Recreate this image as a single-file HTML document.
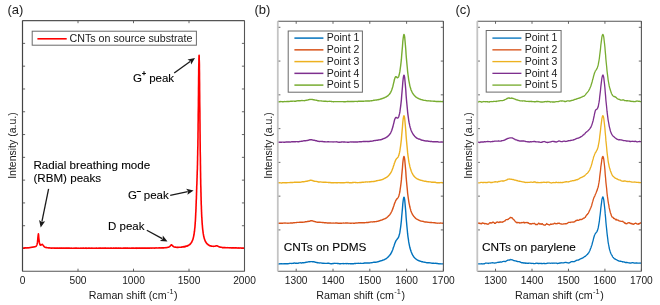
<!DOCTYPE html>
<html><head><meta charset="utf-8"><style>
html,body{margin:0;padding:0;background:#fff;}
svg{display:block;will-change:transform;}
text{font-family:"Liberation Sans", sans-serif;fill:#1a1a1a;}
.an{fill:#000;stroke:#000;stroke-width:0.1px;}
</style></head><body>
<svg width="660" height="305" viewBox="0 0 660 305">
<line x1="22.50" y1="271.3" x2="22.50" y2="268.7" stroke="#555" stroke-width="0.9"/>
<line x1="22.50" y1="20.6" x2="22.50" y2="23.200000000000003" stroke="#555" stroke-width="0.9"/>
<line x1="78.00" y1="271.3" x2="78.00" y2="268.7" stroke="#555" stroke-width="0.9"/>
<line x1="78.00" y1="20.6" x2="78.00" y2="23.200000000000003" stroke="#555" stroke-width="0.9"/>
<line x1="133.50" y1="271.3" x2="133.50" y2="268.7" stroke="#555" stroke-width="0.9"/>
<line x1="133.50" y1="20.6" x2="133.50" y2="23.200000000000003" stroke="#555" stroke-width="0.9"/>
<line x1="189.00" y1="271.3" x2="189.00" y2="268.7" stroke="#555" stroke-width="0.9"/>
<line x1="189.00" y1="20.6" x2="189.00" y2="23.200000000000003" stroke="#555" stroke-width="0.9"/>
<line x1="244.50" y1="271.3" x2="244.50" y2="268.7" stroke="#555" stroke-width="0.9"/>
<line x1="244.50" y1="20.6" x2="244.50" y2="23.200000000000003" stroke="#555" stroke-width="0.9"/>
<line x1="22.5" y1="248.51" x2="25.1" y2="248.51" stroke="#555" stroke-width="0.9"/>
<line x1="244.5" y1="248.51" x2="241.9" y2="248.51" stroke="#555" stroke-width="0.9"/>
<line x1="22.5" y1="225.72" x2="25.1" y2="225.72" stroke="#555" stroke-width="0.9"/>
<line x1="244.5" y1="225.72" x2="241.9" y2="225.72" stroke="#555" stroke-width="0.9"/>
<line x1="22.5" y1="202.93" x2="25.1" y2="202.93" stroke="#555" stroke-width="0.9"/>
<line x1="244.5" y1="202.93" x2="241.9" y2="202.93" stroke="#555" stroke-width="0.9"/>
<line x1="22.5" y1="180.14" x2="25.1" y2="180.14" stroke="#555" stroke-width="0.9"/>
<line x1="244.5" y1="180.14" x2="241.9" y2="180.14" stroke="#555" stroke-width="0.9"/>
<line x1="22.5" y1="157.35" x2="25.1" y2="157.35" stroke="#555" stroke-width="0.9"/>
<line x1="244.5" y1="157.35" x2="241.9" y2="157.35" stroke="#555" stroke-width="0.9"/>
<line x1="22.5" y1="134.55" x2="25.1" y2="134.55" stroke="#555" stroke-width="0.9"/>
<line x1="244.5" y1="134.55" x2="241.9" y2="134.55" stroke="#555" stroke-width="0.9"/>
<line x1="22.5" y1="111.76" x2="25.1" y2="111.76" stroke="#555" stroke-width="0.9"/>
<line x1="244.5" y1="111.76" x2="241.9" y2="111.76" stroke="#555" stroke-width="0.9"/>
<line x1="22.5" y1="88.97" x2="25.1" y2="88.97" stroke="#555" stroke-width="0.9"/>
<line x1="244.5" y1="88.97" x2="241.9" y2="88.97" stroke="#555" stroke-width="0.9"/>
<line x1="22.5" y1="66.18" x2="25.1" y2="66.18" stroke="#555" stroke-width="0.9"/>
<line x1="244.5" y1="66.18" x2="241.9" y2="66.18" stroke="#555" stroke-width="0.9"/>
<line x1="22.5" y1="43.39" x2="25.1" y2="43.39" stroke="#555" stroke-width="0.9"/>
<line x1="244.5" y1="43.39" x2="241.9" y2="43.39" stroke="#555" stroke-width="0.9"/>
<polyline fill="none" stroke="#FF0000" stroke-width="1.6" stroke-linejoin="round" points="22.5,248.0 22.7,248.0 23.0,248.0 23.2,248.1 23.4,248.0 23.7,248.1 23.9,248.0 24.1,247.9 24.3,248.0 24.6,248.0 24.8,247.9 25.0,247.9 25.3,247.9 25.5,248.0 25.7,247.9 26.0,247.9 26.2,248.0 26.4,247.9 26.6,248.0 26.9,247.9 27.1,247.9 27.3,247.8 27.6,247.9 27.8,247.8 28.0,247.8 28.3,247.8 28.5,247.9 28.7,247.7 28.9,247.7 29.2,247.7 29.4,247.7 29.6,247.6 29.9,247.6 30.1,247.6 30.3,247.5 30.6,247.5 30.8,247.4 31.0,247.4 31.2,247.4 31.5,247.3 31.7,247.3 31.9,247.2 32.2,247.3 32.4,247.2 32.6,247.1 32.9,247.2 33.1,247.0 33.3,247.0 33.6,247.0 33.8,246.9 34.0,246.9 34.2,246.9 34.5,246.8 34.7,246.8 34.9,246.8 35.2,246.6 35.4,246.6 35.6,246.5 35.9,246.3 36.1,246.2 36.3,245.9 36.5,245.6 36.8,245.1 37.0,244.5 37.2,243.6 37.5,242.2 37.7,240.2 37.9,237.6 38.2,235.1 38.4,233.9 38.6,235.2 38.8,238.0 39.1,240.4 39.3,242.2 39.5,243.3 39.8,244.1 40.0,244.7 40.2,245.0 40.5,245.2 40.7,245.1 40.9,245.2 41.2,245.0 41.4,244.8 41.6,244.6 41.8,244.5 42.1,244.4 42.3,244.4 42.5,244.6 42.8,244.7 43.0,245.1 43.2,245.4 43.5,245.7 43.7,246.1 43.9,246.3 44.1,246.6 44.4,246.7 44.6,247.0 44.8,247.0 45.1,247.3 45.3,247.4 45.5,247.4 45.8,247.5 46.0,247.5 46.2,247.4 46.4,247.6 46.7,247.7 46.9,247.7 47.1,247.7 47.4,247.8 47.6,247.8 47.8,247.8 48.1,247.8 48.3,247.9 48.5,247.9 48.7,247.9 49.0,248.0 49.2,247.9 49.4,248.0 49.7,247.9 49.9,247.9 50.1,248.0 50.4,248.0 50.6,248.0 50.8,248.1 51.1,248.1 51.3,248.0 51.5,248.1 51.7,248.0 52.0,248.1 52.2,248.0 52.4,248.1 52.7,248.0 52.9,248.0 53.1,248.1 53.4,248.0 53.6,248.0 53.8,248.1 54.0,248.1 54.3,248.1 54.5,248.1 54.7,248.0 55.0,248.1 55.2,248.1 55.4,248.1 55.7,248.1 55.9,248.2 56.1,248.0 56.3,248.1 56.6,248.0 56.8,248.1 57.0,248.1 57.3,248.1 57.5,248.1 57.7,248.1 58.0,248.1 58.2,248.1 58.4,248.2 58.7,248.2 58.9,248.0 59.1,248.2 59.3,248.2 59.6,248.1 59.8,248.1 60.0,248.2 60.3,248.1 60.5,248.2 60.7,248.2 61.0,248.1 61.2,248.1 61.4,248.1 61.6,248.2 61.9,248.1 62.1,248.2 62.3,248.1 62.6,248.2 62.8,248.2 63.0,248.1 63.3,248.2 63.5,248.1 63.7,248.1 63.9,248.2 64.2,248.2 64.4,248.1 64.6,248.2 64.9,248.1 65.1,248.1 65.3,248.1 65.6,248.1 65.8,248.1 66.0,248.2 66.2,248.2 66.5,248.1 66.7,248.1 66.9,248.2 67.2,248.1 67.4,248.1 67.6,248.1 67.9,248.1 68.1,248.2 68.3,248.1 68.6,248.2 68.8,248.1 69.0,248.1 69.2,248.1 69.5,248.1 69.7,248.1 69.9,248.2 70.2,248.2 70.4,248.1 70.6,248.2 70.9,248.2 71.1,248.1 71.3,248.2 71.5,248.3 71.8,248.1 72.0,248.2 72.2,248.2 72.5,248.2 72.7,248.2 72.9,248.2 73.2,248.2 73.4,248.2 73.6,248.2 73.8,248.1 74.1,248.2 74.3,248.1 74.5,248.2 74.8,248.2 75.0,248.2 75.2,248.2 75.5,248.1 75.7,248.2 75.9,248.1 76.2,248.1 76.4,248.1 76.6,248.2 76.8,248.1 77.1,248.2 77.3,248.2 77.5,248.2 77.8,248.2 78.0,248.1 78.2,248.2 78.5,248.2 78.7,248.2 78.9,248.1 79.1,248.2 79.4,248.3 79.6,248.2 79.8,248.3 80.1,248.3 80.3,248.2 80.5,248.1 80.8,248.2 81.0,248.2 81.2,248.2 81.4,248.1 81.7,248.2 81.9,248.2 82.1,248.2 82.4,248.2 82.6,248.1 82.8,248.1 83.1,248.2 83.3,248.2 83.5,248.1 83.7,248.2 84.0,248.1 84.2,248.2 84.4,248.2 84.7,248.2 84.9,248.2 85.1,248.1 85.4,248.1 85.6,248.2 85.8,248.1 86.1,248.1 86.3,248.3 86.5,248.1 86.7,248.2 87.0,248.2 87.2,248.2 87.4,248.2 87.7,248.2 87.9,248.1 88.1,248.1 88.4,248.2 88.6,248.1 88.8,248.2 89.0,248.2 89.3,248.3 89.5,248.1 89.7,248.1 90.0,248.1 90.2,248.1 90.4,248.2 90.7,248.2 90.9,248.2 91.1,248.2 91.3,248.2 91.6,248.1 91.8,248.1 92.0,248.2 92.3,248.2 92.5,248.2 92.7,248.1 93.0,248.1 93.2,248.2 93.4,248.2 93.6,248.2 93.9,248.2 94.1,248.1 94.3,248.2 94.6,248.2 94.8,248.2 95.0,248.2 95.3,248.2 95.5,248.2 95.7,248.2 96.0,248.1 96.2,248.2 96.4,248.1 96.6,248.1 96.9,248.2 97.1,248.2 97.3,248.2 97.6,248.2 97.8,248.2 98.0,248.1 98.3,248.1 98.5,248.2 98.7,248.2 98.9,248.2 99.2,248.1 99.4,248.2 99.6,248.2 99.9,248.1 100.1,248.2 100.3,248.1 100.6,248.1 100.8,248.1 101.0,248.1 101.2,248.1 101.5,248.2 101.7,248.2 101.9,248.2 102.2,248.2 102.4,248.1 102.6,248.1 102.9,248.2 103.1,248.2 103.3,248.2 103.6,248.1 103.8,248.2 104.0,248.1 104.2,248.1 104.5,248.2 104.7,248.2 104.9,248.1 105.2,248.2 105.4,248.1 105.6,248.1 105.9,248.1 106.1,248.2 106.3,248.2 106.5,248.1 106.8,248.3 107.0,248.2 107.2,248.1 107.5,248.1 107.7,248.2 107.9,248.2 108.2,248.2 108.4,248.2 108.6,248.1 108.8,248.0 109.1,248.1 109.3,248.2 109.5,248.2 109.8,248.2 110.0,248.2 110.2,248.2 110.5,248.1 110.7,248.2 110.9,248.1 111.1,248.1 111.4,248.1 111.6,248.2 111.8,248.1 112.1,248.2 112.3,248.2 112.5,248.2 112.8,248.2 113.0,248.2 113.2,248.1 113.5,248.2 113.7,248.1 113.9,248.1 114.1,248.2 114.4,248.2 114.6,248.1 114.8,248.1 115.1,248.2 115.3,248.1 115.5,248.1 115.8,248.2 116.0,248.2 116.2,248.1 116.4,248.1 116.7,248.2 116.9,248.1 117.1,248.1 117.4,248.1 117.6,248.2 117.8,248.2 118.1,248.2 118.3,248.0 118.5,248.2 118.7,248.1 119.0,248.2 119.2,248.1 119.4,248.2 119.7,248.2 119.9,248.1 120.1,248.2 120.4,248.1 120.6,248.1 120.8,248.2 121.1,248.2 121.3,248.2 121.5,248.1 121.7,248.2 122.0,248.2 122.2,248.2 122.4,248.2 122.7,248.2 122.9,248.1 123.1,248.1 123.4,248.2 123.6,248.1 123.8,248.2 124.0,248.2 124.3,248.1 124.5,248.2 124.7,248.1 125.0,248.2 125.2,248.1 125.4,248.1 125.7,248.2 125.9,248.1 126.1,248.1 126.3,248.1 126.6,248.1 126.8,248.2 127.0,248.1 127.3,248.1 127.5,248.1 127.7,248.2 128.0,248.1 128.2,248.2 128.4,248.1 128.6,248.2 128.9,248.2 129.1,248.1 129.3,248.1 129.6,248.2 129.8,248.2 130.0,248.2 130.3,248.2 130.5,248.1 130.7,248.2 131.0,248.2 131.2,248.1 131.4,248.2 131.6,248.1 131.9,248.2 132.1,248.2 132.3,248.2 132.6,248.0 132.8,248.1 133.0,248.1 133.3,248.1 133.5,248.1 133.7,248.1 133.9,248.0 134.2,248.2 134.4,248.2 134.6,248.2 134.9,248.2 135.1,248.1 135.3,248.1 135.6,248.2 135.8,248.2 136.0,248.1 136.2,248.0 136.5,248.3 136.7,248.1 136.9,248.2 137.2,248.1 137.4,248.2 137.6,248.1 137.9,248.2 138.1,248.2 138.3,248.0 138.5,248.1 138.8,248.1 139.0,248.1 139.2,248.2 139.5,248.1 139.7,248.1 139.9,248.1 140.2,248.1 140.4,248.2 140.6,248.1 140.9,248.1 141.1,248.0 141.3,248.0 141.5,248.1 141.8,248.1 142.0,248.1 142.2,248.1 142.5,248.1 142.7,248.1 142.9,248.1 143.2,248.1 143.4,248.1 143.6,248.1 143.8,248.1 144.1,248.1 144.3,248.1 144.5,248.1 144.8,248.1 145.0,248.1 145.2,248.1 145.5,248.1 145.7,248.1 145.9,248.1 146.1,248.1 146.4,248.1 146.6,248.2 146.8,248.1 147.1,248.1 147.3,248.1 147.5,248.1 147.8,248.1 148.0,248.1 148.2,248.1 148.5,248.1 148.7,248.1 148.9,248.1 149.1,248.0 149.4,248.1 149.6,248.1 149.8,248.1 150.1,248.0 150.3,248.1 150.5,248.0 150.8,248.0 151.0,248.0 151.2,248.0 151.4,248.1 151.7,248.1 151.9,248.0 152.1,248.0 152.4,248.0 152.6,248.1 152.8,248.0 153.1,248.0 153.3,248.0 153.5,248.0 153.7,248.1 154.0,248.0 154.2,248.0 154.4,248.1 154.7,248.0 154.9,248.1 155.1,248.1 155.4,248.0 155.6,247.9 155.8,248.0 156.0,248.0 156.3,247.9 156.5,247.9 156.7,248.0 157.0,248.0 157.2,248.0 157.4,248.0 157.7,248.0 157.9,248.0 158.1,248.0 158.4,247.9 158.6,248.0 158.8,248.0 159.0,247.9 159.3,247.9 159.5,247.9 159.7,247.9 160.0,248.0 160.2,247.9 160.4,248.0 160.7,248.0 160.9,247.9 161.1,247.9 161.3,247.9 161.6,248.0 161.8,247.9 162.0,247.9 162.3,247.9 162.5,248.0 162.7,247.9 163.0,247.8 163.2,247.8 163.4,247.9 163.6,247.8 163.9,247.8 164.1,247.9 164.3,247.8 164.6,247.8 164.8,247.7 165.0,247.7 165.3,247.7 165.5,247.7 165.7,247.7 166.0,247.6 166.2,247.7 166.4,247.6 166.6,247.6 166.9,247.5 167.1,247.5 167.3,247.5 167.6,247.4 167.8,247.3 168.0,247.3 168.3,247.2 168.5,247.2 168.7,247.1 168.9,247.0 169.2,246.8 169.4,246.7 169.6,246.6 169.9,246.4 170.1,246.1 170.3,245.9 170.6,245.7 170.8,245.3 171.0,245.1 171.2,244.9 171.5,244.9 171.7,244.9 171.9,245.1 172.2,245.3 172.4,245.6 172.6,245.9 172.9,246.0 173.1,246.3 173.3,246.4 173.5,246.6 173.8,246.8 174.0,246.8 174.2,247.0 174.5,247.0 174.7,247.1 174.9,247.1 175.2,247.1 175.4,247.1 175.6,247.1 175.9,247.3 176.1,247.3 176.3,247.2 176.5,247.3 176.8,247.4 177.0,247.3 177.2,247.3 177.5,247.4 177.7,247.4 177.9,247.4 178.2,247.3 178.4,247.4 178.6,247.3 178.8,247.3 179.1,247.3 179.3,247.3 179.5,247.2 179.8,247.3 180.0,247.3 180.2,247.3 180.5,247.2 180.7,247.2 180.9,247.2 181.1,247.2 181.4,247.1 181.6,247.1 181.8,247.2 182.1,247.1 182.3,247.0 182.5,246.9 182.8,246.9 183.0,246.9 183.2,246.9 183.4,246.8 183.4,246.9 183.5,246.9 183.6,246.8 183.6,246.8 183.7,246.8 183.7,246.8 183.8,246.7 183.8,246.7 183.9,246.8 184.0,246.7 184.0,246.9 184.1,246.7 184.1,246.8 184.2,246.7 184.2,246.7 184.3,246.7 184.3,246.8 184.4,246.7 184.5,246.7 184.5,246.7 184.6,246.7 184.6,246.7 184.7,246.8 184.7,246.6 184.8,246.6 184.8,246.6 184.9,246.5 185.0,246.6 185.0,246.7 185.1,246.6 185.1,246.6 185.2,246.6 185.2,246.5 185.3,246.6 185.3,246.5 185.4,246.6 185.5,246.5 185.5,246.5 185.6,246.5 185.6,246.4 185.7,246.4 185.7,246.4 185.8,246.5 185.8,246.4 185.9,246.3 186.0,246.2 186.0,246.3 186.1,246.3 186.1,246.3 186.2,246.2 186.2,246.3 186.3,246.2 186.3,246.2 186.4,246.2 186.5,246.2 186.5,246.2 186.6,246.2 186.6,246.1 186.7,246.0 186.7,246.1 186.8,246.1 186.8,246.0 186.9,246.0 187.0,246.1 187.0,246.0 187.1,245.9 187.1,245.9 187.2,245.9 187.2,245.8 187.3,245.9 187.3,245.9 187.4,245.9 187.5,245.7 187.5,245.9 187.6,245.8 187.6,245.8 187.7,245.7 187.7,245.7 187.8,245.6 187.8,245.7 187.9,245.6 188.0,245.6 188.0,245.6 188.1,245.5 188.1,245.6 188.2,245.6 188.2,245.5 188.3,245.5 188.3,245.4 188.4,245.4 188.5,245.3 188.5,245.2 188.6,245.3 188.6,245.3 188.7,245.3 188.7,245.2 188.8,245.2 188.8,245.1 188.9,245.1 189.0,245.1 189.0,245.0 189.1,245.0 189.1,244.9 189.2,244.9 189.2,244.8 189.3,244.8 189.3,244.7 189.4,244.7 189.5,244.7 189.5,244.6 189.6,244.7 189.6,244.6 189.7,244.5 189.7,244.5 189.8,244.5 189.8,244.3 189.9,244.3 190.0,244.4 190.0,244.3 190.1,244.2 190.1,244.1 190.2,244.1 190.2,244.0 190.3,244.0 190.3,243.9 190.4,243.9 190.5,243.8 190.5,243.7 190.6,243.6 190.6,243.7 190.7,243.6 190.7,243.5 190.8,243.4 190.8,243.4 190.9,243.3 191.0,243.2 191.0,243.2 191.1,243.1 191.1,243.0 191.2,243.0 191.2,242.9 191.3,242.8 191.3,242.7 191.4,242.6 191.5,242.6 191.5,242.4 191.6,242.3 191.6,242.2 191.7,242.1 191.7,242.1 191.8,241.9 191.8,241.9 191.9,241.8 192.0,241.7 192.0,241.4 192.1,241.4 192.1,241.2 192.2,241.2 192.2,241.0 192.3,241.0 192.3,240.8 192.4,240.5 192.5,240.5 192.5,240.4 192.6,240.2 192.6,240.1 192.7,239.9 192.7,239.8 192.8,239.7 192.8,239.5 192.9,239.3 193.0,239.1 193.0,238.9 193.1,238.7 193.1,238.5 193.2,238.4 193.2,238.1 193.3,237.8 193.3,237.7 193.4,237.5 193.5,237.2 193.5,236.9 193.6,236.8 193.6,236.5 193.7,236.2 193.7,235.9 193.8,235.7 193.8,235.4 193.9,235.1 194.0,234.7 194.0,234.4 194.1,234.1 194.1,233.7 194.2,233.3 194.2,233.0 194.3,232.6 194.3,232.1 194.4,231.8 194.5,231.3 194.5,230.9 194.6,230.3 194.6,229.7 194.7,229.2 194.7,228.8 194.8,228.2 194.9,227.6 194.9,227.0 195.0,226.3 195.0,225.8 195.1,224.9 195.1,224.3 195.2,223.4 195.2,222.7 195.3,221.9 195.4,221.0 195.4,220.0 195.5,219.1 195.5,218.1 195.6,217.1 195.6,216.1 195.7,214.9 195.7,213.7 195.8,212.5 195.9,211.3 195.9,209.9 196.0,208.7 196.0,207.3 196.1,205.8 196.1,204.3 196.2,202.9 196.2,201.3 196.3,199.8 196.4,198.2 196.4,196.5 196.5,195.0 196.5,193.4 196.6,191.8 196.6,190.1 196.7,188.5 196.7,186.9 196.8,185.3 196.9,183.7 196.9,182.2 197.0,180.5 197.0,179.0 197.1,177.4 197.1,175.8 197.2,174.1 197.2,172.3 197.3,170.5 197.4,168.7 197.4,166.6 197.5,164.5 197.5,162.2 197.6,159.8 197.6,157.3 197.7,154.4 197.7,151.6 197.8,148.4 197.9,145.1 197.9,141.4 198.0,137.5 198.0,133.7 198.1,129.3 198.1,124.7 198.2,120.0 198.2,115.1 198.3,110.1 198.4,104.9 198.4,99.6 198.5,94.3 198.5,88.9 198.6,83.8 198.6,78.6 198.7,73.9 198.7,69.4 198.8,65.5 198.9,62.1 198.9,59.2 199.0,57.1 199.0,55.8 199.1,55.3 199.1,55.5 199.2,56.6 199.2,58.5 199.3,61.3 199.4,64.6 199.4,68.7 199.5,73.3 199.5,78.2 199.6,83.6 199.6,89.2 199.7,95.0 199.7,100.9 199.8,106.8 199.9,112.7 199.9,118.4 200.0,124.2 200.0,129.7 200.1,135.1 200.1,140.2 200.2,145.1 200.2,149.9 200.3,154.3 200.4,158.7 200.4,162.7 200.5,166.6 200.5,170.4 200.6,173.8 200.6,177.1 200.7,180.2 200.7,183.2 200.8,186.0 200.9,188.7 200.9,191.1 201.0,193.6 201.0,195.7 201.1,197.9 201.1,199.9 201.2,201.8 201.2,203.5 201.3,205.3 201.4,207.0 201.4,208.5 201.5,210.0 201.5,211.3 201.6,212.5 201.6,213.9 201.7,215.0 201.7,216.2 201.8,217.2 201.9,218.2 201.9,219.2 202.0,220.1 202.0,220.9 202.1,221.9 202.1,222.7 202.2,223.5 202.2,224.2 202.3,224.9 202.4,225.6 202.4,226.3 202.5,226.8 202.5,227.6 202.6,228.1 202.6,228.6 202.7,229.2 202.7,229.7 202.8,230.2 202.9,230.7 202.9,231.1 203.0,231.4 203.0,231.9 203.1,232.4 203.1,232.8 203.2,233.1 203.2,233.4 203.3,233.9 203.4,234.2 203.4,234.4 203.5,234.7 203.5,235.1 203.6,235.4 203.6,235.8 203.7,236.0 203.7,236.3 203.8,236.4 203.9,236.8 203.9,236.9 204.0,237.1 204.0,237.4 204.1,237.7 204.1,237.8 204.2,238.0 204.2,238.3 204.3,238.5 204.4,238.7 204.4,238.9 204.5,238.9 204.5,239.3 204.6,239.4 204.6,239.5 204.7,239.7 204.7,239.8 204.8,240.0 204.9,240.1 204.9,240.2 205.0,240.5 205.0,240.6 205.1,240.7 205.1,240.8 205.2,240.9 205.2,241.1 205.3,241.2 205.4,241.3 205.4,241.4 205.5,241.6 205.5,241.5 205.6,241.6 205.6,241.9 205.7,241.9 205.8,241.9 205.8,242.1 205.9,242.2 205.9,242.3 206.0,242.4 206.0,242.5 206.1,242.6 206.1,242.6 206.2,242.8 206.3,242.8 206.3,242.9 206.4,243.0 206.4,243.1 206.5,243.1 206.5,243.1 206.6,243.2 206.6,243.3 206.7,243.4 206.8,243.4 206.8,243.5 206.9,243.6 206.9,243.6 207.0,243.7 207.0,243.7 207.1,243.8 207.1,243.9 207.2,243.9 207.3,244.0 207.3,244.0 207.4,244.1 207.4,244.1 207.5,244.2 207.5,244.3 207.6,244.3 207.6,244.4 207.7,244.4 207.8,244.4 207.8,244.4 207.9,244.6 207.9,244.6 208.0,244.5 208.0,244.6 208.1,244.7 208.1,244.7 208.2,244.6 208.3,244.7 208.3,244.8 208.4,244.8 208.4,244.9 208.5,245.0 208.5,245.0 208.6,245.0 208.6,245.1 208.7,245.1 208.8,245.1 208.8,245.0 208.9,245.2 208.9,245.2 209.0,245.2 209.0,245.2 209.1,245.2 209.1,245.3 209.2,245.4 209.3,245.4 209.3,245.4 209.4,245.4 209.4,245.4 209.5,245.5 209.5,245.5 209.6,245.5 209.6,245.5 209.7,245.6 209.8,245.6 209.8,245.7 209.9,245.7 209.9,245.6 210.0,245.8 210.0,245.7 210.1,245.7 210.1,245.8 210.2,245.8 210.3,245.8 210.3,245.8 210.4,245.8 210.4,245.9 210.5,245.9 210.5,245.9 210.6,245.9 210.6,245.9 210.7,245.9 210.8,245.9 210.8,246.0 210.9,245.9 210.9,245.9 211.0,245.9 211.0,245.9 211.1,246.0 211.1,246.1 211.2,246.0 211.2,246.1 211.4,246.1 211.6,246.2 211.9,246.2 212.1,246.3 212.3,246.3 212.5,246.3 212.8,246.3 213.0,246.3 213.2,246.3 213.4,246.4 213.7,246.4 213.9,246.3 214.1,246.3 214.3,246.2 214.6,246.2 214.8,246.2 215.0,246.2 215.2,246.1 215.4,246.1 215.7,246.0 215.9,245.8 216.1,245.8 216.3,245.9 216.6,245.7 216.8,245.7 217.0,245.8 217.2,245.9 217.5,246.0 217.7,246.1 217.9,246.2 218.1,246.3 218.4,246.4 218.6,246.5 218.8,246.6 219.0,246.7 219.2,246.9 219.5,246.9 219.7,247.0 219.9,247.1 220.1,247.0 220.4,247.2 220.6,247.2 220.8,247.2 221.0,247.2 221.3,247.3 221.5,247.3 221.7,247.3 221.9,247.4 222.2,247.6 222.4,247.5 222.6,247.5 222.8,247.6 223.0,247.5 223.3,247.5 223.5,247.6 223.7,247.6 223.9,247.5 224.2,247.6 224.4,247.7 224.6,247.6 224.8,247.6 225.1,247.7 225.3,247.6 225.5,247.7 225.7,247.7 226.0,247.7 226.2,247.7 226.4,247.8 226.6,247.7 226.8,247.8 227.1,247.6 227.3,247.8 227.5,247.7 227.7,247.8 228.0,247.8 228.2,247.8 228.4,247.8 228.6,247.7 228.9,247.8 229.1,247.9 229.3,247.9 229.5,247.8 229.7,247.8 230.0,247.8 230.2,247.8 230.4,247.8 230.6,247.8 230.9,247.9 231.1,248.0 231.3,247.9 231.5,248.0 231.8,247.8 232.0,247.9 232.2,247.8 232.4,247.9 232.7,247.8 232.9,247.9 233.1,247.9 233.3,247.9 233.5,247.9 233.8,247.9 234.0,248.0 234.2,247.9 234.4,247.9 234.7,248.0 234.9,247.9 235.1,248.0 235.3,247.9 235.6,247.9 235.8,248.0 236.0,247.9 236.2,248.0 236.5,247.9 236.7,248.0 236.9,247.9 237.1,248.0 237.3,248.1 237.6,248.0 237.8,248.0 238.0,247.9 238.2,248.0 238.5,248.0 238.7,248.1 238.9,247.9 239.1,247.9 239.4,248.0 239.6,248.0 239.8,248.1 240.0,248.0 240.3,247.9 240.5,248.0 240.7,248.0 240.9,248.0 241.1,248.1 241.4,248.0 241.6,248.1 241.8,248.0 242.0,248.0 242.3,248.0 242.5,248.0 242.7,248.0 242.9,248.1 243.2,248.1 243.4,248.0 243.6,248.1 243.8,248.1 244.1,248.1 244.3,248.1 244.5,248.1"/>
<line x1="22.5" y1="20.6" x2="244.5" y2="20.6" stroke="#555" stroke-width="1.1"/>
<line x1="244.5" y1="20.6" x2="244.5" y2="271.3" stroke="#555" stroke-width="1.1"/>
<line x1="22.5" y1="271.3" x2="244.5" y2="271.3" stroke="#555" stroke-width="1.1"/>
<line x1="22.5" y1="20.6" x2="22.5" y2="271.3" stroke="#444" stroke-width="1.2"/>
<text x="22.50" y="283.5" font-size="10.2" text-anchor="middle" >0</text>
<text x="78.00" y="283.5" font-size="10.2" text-anchor="middle" >500</text>
<text x="133.50" y="283.5" font-size="10.2" text-anchor="middle" >1000</text>
<text x="189.00" y="283.5" font-size="10.2" text-anchor="middle" >1500</text>
<text x="244.50" y="283.5" font-size="10.2" text-anchor="middle" >2000</text>
<text x="7.5" y="13.7" font-size="13" text-anchor="start" >(a)</text>
<rect x="32.2" y="31.2" width="164.2" height="14.0" fill="#fff" stroke="#6a6a6a" stroke-width="1"/>
<line x1="37.4" y1="38.8" x2="66.7" y2="38.8" stroke="#FF0000" stroke-width="1.6"/>
<text x="69.5" y="41.8" font-size="10.7" text-anchor="start" >CNTs on source substrate</text>
<text x="133.0" y="81.8" font-size="11.5" text-anchor="start" class="an" >G<tspan font-size="6.8" dy="-5.6" stroke-width="0.35">+</tspan><tspan dy="5.6"> peak</tspan></text>
<line x1="174.20" y1="73.00" x2="190.14" y2="61.42" stroke="#1a1a1a" stroke-width="1.3"/>
<polygon points="195.00,57.90 191.16,64.52 190.55,61.13 187.51,59.50" fill="#1a1a1a"/>
<text x="128.0" y="199.0" font-size="11.5" text-anchor="start" class="an" >G<tspan font-size="6.5" dy="-6.4" stroke-width="0.5">&#8211;</tspan><tspan dy="6.4"> peak</tspan></text>
<line x1="170.20" y1="195.30" x2="187.73" y2="191.63" stroke="#1a1a1a" stroke-width="1.3"/>
<polygon points="193.60,190.40 187.38,194.87 188.22,191.53 186.11,188.80" fill="#1a1a1a"/>
<text x="108.0" y="229.9" font-size="11.5" text-anchor="start" class="an" >D peak</text>
<line x1="146.80" y1="230.30" x2="162.22" y2="238.64" stroke="#1a1a1a" stroke-width="1.3"/>
<polygon points="167.50,241.50 159.87,240.90 162.66,238.88 162.82,235.44" fill="#1a1a1a"/>
<text x="33.5" y="169.2" font-size="11.6" text-anchor="start" class="an" >Radial breathing mode</text>
<text x="33.5" y="182.4" font-size="11.6" text-anchor="start" class="an" >(RBM) peaks</text>
<line x1="48.60" y1="188.90" x2="41.91" y2="221.52" stroke="#1a1a1a" stroke-width="1.3"/>
<polygon points="40.70,227.40 39.07,219.92 41.81,222.01 45.14,221.17" fill="#1a1a1a"/>
<text x="0" y="0" font-size="10.5" text-anchor="middle" transform="translate(16.2,145.6) rotate(-90)">Intensity (a.u.)</text>
<text x="133.2" y="298.8" font-size="10.7" text-anchor="middle" >Raman shift (cm<tspan font-size="7.4" dy="-4.6" dx="0.3">-1</tspan><tspan dy="4.6" dx="0.5">)</tspan></text>
<line x1="296.20" y1="271.3" x2="296.20" y2="268.7" stroke="#555" stroke-width="0.9"/>
<line x1="296.20" y1="21.2" x2="296.20" y2="23.8" stroke="#555" stroke-width="0.9"/>
<line x1="333.00" y1="271.3" x2="333.00" y2="268.7" stroke="#555" stroke-width="0.9"/>
<line x1="333.00" y1="21.2" x2="333.00" y2="23.8" stroke="#555" stroke-width="0.9"/>
<line x1="369.80" y1="271.3" x2="369.80" y2="268.7" stroke="#555" stroke-width="0.9"/>
<line x1="369.80" y1="21.2" x2="369.80" y2="23.8" stroke="#555" stroke-width="0.9"/>
<line x1="406.60" y1="271.3" x2="406.60" y2="268.7" stroke="#555" stroke-width="0.9"/>
<line x1="406.60" y1="21.2" x2="406.60" y2="23.8" stroke="#555" stroke-width="0.9"/>
<line x1="443.40" y1="271.3" x2="443.40" y2="268.7" stroke="#555" stroke-width="0.9"/>
<line x1="443.40" y1="21.2" x2="443.40" y2="23.8" stroke="#555" stroke-width="0.9"/>
<line x1="277.8" y1="27.30" x2="280.40000000000003" y2="27.30" stroke="#555" stroke-width="0.9"/>
<line x1="443.4" y1="27.30" x2="440.79999999999995" y2="27.30" stroke="#555" stroke-width="0.9"/>
<line x1="277.8" y1="61.07" x2="280.40000000000003" y2="61.07" stroke="#555" stroke-width="0.9"/>
<line x1="443.4" y1="61.07" x2="440.79999999999995" y2="61.07" stroke="#555" stroke-width="0.9"/>
<line x1="277.8" y1="94.84" x2="280.40000000000003" y2="94.84" stroke="#555" stroke-width="0.9"/>
<line x1="443.4" y1="94.84" x2="440.79999999999995" y2="94.84" stroke="#555" stroke-width="0.9"/>
<line x1="277.8" y1="128.61" x2="280.40000000000003" y2="128.61" stroke="#555" stroke-width="0.9"/>
<line x1="443.4" y1="128.61" x2="440.79999999999995" y2="128.61" stroke="#555" stroke-width="0.9"/>
<line x1="277.8" y1="162.38" x2="280.40000000000003" y2="162.38" stroke="#555" stroke-width="0.9"/>
<line x1="443.4" y1="162.38" x2="440.79999999999995" y2="162.38" stroke="#555" stroke-width="0.9"/>
<line x1="277.8" y1="196.15" x2="280.40000000000003" y2="196.15" stroke="#555" stroke-width="0.9"/>
<line x1="443.4" y1="196.15" x2="440.79999999999995" y2="196.15" stroke="#555" stroke-width="0.9"/>
<line x1="277.8" y1="229.92" x2="280.40000000000003" y2="229.92" stroke="#555" stroke-width="0.9"/>
<line x1="443.4" y1="229.92" x2="440.79999999999995" y2="229.92" stroke="#555" stroke-width="0.9"/>
<polyline fill="none" stroke="#0072BD" stroke-width="1.4" stroke-linejoin="round" points="277.8,264.0 278.2,263.9 278.5,264.0 278.9,264.0 279.3,263.9 279.6,263.8 280.0,263.8 280.4,263.8 280.8,263.9 281.1,263.8 281.5,263.8 281.9,263.9 282.2,263.8 282.6,263.9 283.0,263.9 283.3,263.9 283.7,263.8 284.1,263.8 284.4,263.8 284.8,263.7 285.2,263.7 285.5,263.7 285.9,263.7 286.3,263.7 286.7,263.8 287.0,263.8 287.4,263.8 287.8,263.6 288.1,263.7 288.5,263.6 288.9,263.6 289.2,263.5 289.6,263.4 290.0,263.4 290.3,263.4 290.7,263.4 291.1,263.4 291.4,263.4 291.8,263.5 292.2,263.4 292.6,263.4 292.9,263.3 293.3,263.3 293.7,263.3 294.0,263.2 294.4,263.0 294.8,263.1 295.1,263.1 295.5,263.2 295.9,263.2 296.2,263.3 296.6,263.3 297.0,263.4 297.3,263.4 297.7,263.3 298.1,263.2 298.5,263.1 298.8,263.0 299.2,262.9 299.6,262.9 299.9,262.9 300.3,262.8 300.7,262.9 301.0,262.9 301.4,263.0 301.8,263.0 302.1,262.8 302.5,262.8 302.9,262.8 303.2,262.8 303.6,262.8 304.0,262.7 304.4,262.6 304.7,262.6 305.1,262.5 305.5,262.5 305.8,262.3 306.2,262.3 306.6,262.1 306.9,262.1 307.3,262.1 307.7,262.0 308.0,261.9 308.4,261.9 308.8,261.8 309.1,261.8 309.5,261.8 309.9,261.7 310.3,261.7 310.6,261.6 311.0,261.6 311.4,261.6 311.7,261.6 312.1,261.6 312.5,261.7 312.8,261.6 313.2,261.7 313.6,261.8 313.9,261.8 314.3,261.9 314.7,262.0 315.1,262.1 315.4,262.3 315.8,262.4 316.2,262.4 316.5,262.5 316.9,262.5 317.3,262.7 317.6,262.7 318.0,262.7 318.4,262.9 318.7,262.9 319.1,262.9 319.5,262.9 319.8,263.0 320.2,262.9 320.6,262.9 321.0,262.9 321.3,263.0 321.7,263.1 322.1,263.1 322.4,263.2 322.8,263.3 323.2,263.3 323.5,263.4 323.9,263.3 324.3,263.3 324.6,263.4 325.0,263.4 325.4,263.4 325.7,263.4 326.1,263.4 326.5,263.4 326.9,263.4 327.2,263.4 327.6,263.3 328.0,263.3 328.3,263.3 328.7,263.3 329.1,263.4 329.4,263.4 329.8,263.5 330.2,263.6 330.5,263.7 330.9,263.6 331.3,263.7 331.6,263.6 332.0,263.7 332.4,263.6 332.8,263.5 333.1,263.5 333.5,263.5 333.9,263.4 334.2,263.4 334.6,263.4 335.0,263.3 335.3,263.4 335.7,263.4 336.1,263.4 336.4,263.4 336.8,263.4 337.2,263.4 337.5,263.5 337.9,263.5 338.3,263.5 338.7,263.6 339.0,263.7 339.4,263.7 339.8,263.8 340.1,263.7 340.5,263.8 340.9,263.7 341.2,263.6 341.6,263.6 342.0,263.6 342.3,263.6 342.7,263.6 343.1,263.5 343.4,263.6 343.8,263.7 344.2,263.6 344.6,263.6 344.9,263.6 345.3,263.6 345.7,263.6 346.0,263.5 346.4,263.6 346.8,263.7 347.1,263.5 347.5,263.6 347.9,263.6 348.2,263.6 348.6,263.7 349.0,263.6 349.4,263.6 349.7,263.6 350.1,263.7 350.5,263.6 350.8,263.6 351.2,263.7 351.6,263.7 351.9,263.7 352.3,263.8 352.7,263.7 353.0,263.7 353.4,263.8 353.8,263.6 354.1,263.6 354.5,263.5 354.9,263.4 355.3,263.5 355.6,263.5 356.0,263.4 356.4,263.4 356.7,263.4 357.1,263.4 357.5,263.4 357.8,263.4 358.2,263.3 358.6,263.4 358.9,263.4 359.3,263.4 359.7,263.4 360.0,263.4 360.4,263.3 360.8,263.4 361.2,263.4 361.5,263.4 361.9,263.4 362.3,263.4 362.6,263.4 363.0,263.4 363.4,263.3 363.7,263.2 364.1,263.2 364.5,263.0 364.8,263.0 365.2,263.0 365.6,262.9 365.9,262.9 366.3,263.0 366.7,262.9 367.1,263.0 367.4,263.1 367.8,263.0 368.2,263.0 368.5,263.0 368.9,263.0 369.3,263.0 369.6,263.0 370.0,262.9 370.4,262.9 370.7,262.8 371.1,262.8 371.5,262.7 371.8,262.6 372.2,262.6 372.6,262.6 373.0,262.4 373.3,262.4 373.7,262.3 374.1,262.3 374.4,262.2 374.8,262.2 375.2,262.2 375.5,262.2 375.9,262.2 376.3,262.1 376.6,262.1 377.0,262.0 377.4,261.9 377.8,261.8 378.1,261.7 378.5,261.6 378.9,261.5 379.2,261.3 379.6,261.2 380.0,261.1 380.3,261.0 380.7,260.9 381.1,260.8 381.4,260.6 381.8,260.6 382.2,260.5 382.5,260.3 382.9,260.2 383.3,260.0 383.7,259.9 384.0,259.8 384.4,259.6 384.8,259.3 385.1,259.2 385.5,259.0 385.9,258.8 386.2,258.6 386.6,258.3 387.0,258.0 387.3,257.7 387.7,257.4 388.1,257.0 388.4,256.6 388.8,256.2 389.2,255.9 389.6,255.4 389.9,255.0 390.3,254.5 390.7,254.0 391.0,253.4 391.4,252.7 391.8,251.9 392.1,251.1 392.5,250.2 392.9,249.2 393.2,248.1 393.6,247.1 394.0,246.0 394.3,244.9 394.7,243.8 395.1,242.8 395.5,241.9 395.8,241.1 396.2,240.4 396.6,239.9 396.9,239.5 397.3,239.0 397.7,238.6 398.0,238.0 398.4,237.4 398.8,236.6 399.1,235.4 399.5,234.0 399.9,232.2 400.2,230.0 400.6,227.3 401.0,224.2 401.4,220.5 401.7,216.5 402.1,212.3 402.5,207.9 402.8,203.9 403.2,200.5 403.6,198.0 403.9,197.1 404.3,197.7 404.7,199.8 405.0,203.3 405.4,207.6 405.8,212.3 406.1,217.1 406.5,221.8 406.9,226.2 407.3,230.2 407.6,233.7 408.0,236.8 408.4,239.4 408.7,241.9 409.1,243.9 409.5,245.8 409.8,247.3 410.2,248.7 410.6,250.0 410.9,251.1 411.3,252.1 411.7,253.0 412.1,253.9 412.4,254.7 412.8,255.3 413.2,255.9 413.5,256.5 413.9,257.0 414.3,257.4 414.6,257.8 415.0,258.2 415.4,258.5 415.7,258.8 416.1,259.1 416.5,259.5 416.8,259.7 417.2,259.9 417.6,260.1 418.0,260.4 418.3,260.5 418.7,260.7 419.1,260.7 419.4,260.9 419.8,261.1 420.2,261.2 420.5,261.2 420.9,261.4 421.3,261.5 421.6,261.7 422.0,261.7 422.4,261.7 422.7,261.9 423.1,262.0 423.5,262.1 423.9,262.1 424.2,262.1 424.6,262.2 425.0,262.3 425.3,262.4 425.7,262.4 426.1,262.6 426.4,262.6 426.8,262.7 427.2,262.7 427.5,262.7 427.9,262.8 428.3,262.8 428.6,262.7 429.0,262.8 429.4,262.8 429.8,262.9 430.1,262.9 430.5,262.9 430.9,263.0 431.2,263.1 431.6,263.1 432.0,263.2 432.3,263.2 432.7,263.3 433.1,263.3 433.4,263.3 433.8,263.3 434.2,263.3 434.5,263.4 434.9,263.4 435.3,263.3 435.7,263.4 436.0,263.3 436.4,263.4 436.8,263.5 437.1,263.4 437.5,263.5 437.9,263.6 438.2,263.6 438.6,263.7 439.0,263.7 439.3,263.8 439.7,263.9 440.1,263.9 440.4,263.8 440.8,263.9 441.2,263.9 441.6,263.9 441.9,263.9 442.3,263.9 442.7,263.9 443.0,263.9 443.4,263.9"/>
<polyline fill="none" stroke="#D95319" stroke-width="1.4" stroke-linejoin="round" points="277.8,223.3 278.2,223.4 278.5,223.3 278.9,223.3 279.3,223.3 279.6,223.3 280.0,223.2 280.4,223.3 280.8,223.2 281.1,223.2 281.5,223.2 281.9,223.2 282.2,223.2 282.6,223.2 283.0,223.1 283.3,223.1 283.7,223.1 284.1,223.0 284.4,223.1 284.8,223.1 285.2,223.0 285.5,223.1 285.9,223.1 286.3,223.1 286.7,223.1 287.0,223.1 287.4,223.1 287.8,223.2 288.1,223.2 288.5,223.1 288.9,223.1 289.2,223.1 289.6,223.1 290.0,223.1 290.3,223.0 290.7,223.0 291.1,223.0 291.4,223.0 291.8,223.0 292.2,223.0 292.6,223.0 292.9,222.9 293.3,222.9 293.7,222.7 294.0,222.7 294.4,222.7 294.8,222.6 295.1,222.6 295.5,222.6 295.9,222.6 296.2,222.6 296.6,222.5 297.0,222.4 297.3,222.4 297.7,222.4 298.1,222.4 298.5,222.4 298.8,222.4 299.2,222.4 299.6,222.3 299.9,222.3 300.3,222.3 300.7,222.3 301.0,222.3 301.4,222.2 301.8,222.2 302.1,222.2 302.5,222.2 302.9,222.3 303.2,222.1 303.6,222.1 304.0,222.1 304.4,222.1 304.7,222.0 305.1,221.9 305.5,221.7 305.8,221.8 306.2,221.7 306.6,221.7 306.9,221.6 307.3,221.5 307.7,221.5 308.0,221.6 308.4,221.4 308.8,221.3 309.1,221.3 309.5,221.2 309.9,221.1 310.3,221.0 310.6,220.8 311.0,220.8 311.4,220.8 311.7,220.8 312.1,220.8 312.5,220.9 312.8,221.0 313.2,221.1 313.6,221.2 313.9,221.3 314.3,221.5 314.7,221.5 315.1,221.6 315.4,221.7 315.8,221.8 316.2,222.0 316.5,222.1 316.9,222.1 317.3,222.2 317.6,222.2 318.0,222.2 318.4,222.2 318.7,222.2 319.1,222.2 319.5,222.2 319.8,222.2 320.2,222.3 320.6,222.4 321.0,222.4 321.3,222.4 321.7,222.4 322.1,222.5 322.4,222.5 322.8,222.6 323.2,222.5 323.5,222.6 323.9,222.6 324.3,222.7 324.6,222.6 325.0,222.7 325.4,222.7 325.7,222.8 326.1,222.8 326.5,222.9 326.9,222.9 327.2,223.0 327.6,223.0 328.0,223.0 328.3,223.0 328.7,222.9 329.1,223.0 329.4,223.0 329.8,223.0 330.2,223.0 330.5,223.0 330.9,223.0 331.3,223.1 331.6,223.1 332.0,223.1 332.4,223.1 332.8,223.1 333.1,223.0 333.5,223.1 333.9,223.1 334.2,223.1 334.6,223.1 335.0,223.1 335.3,223.0 335.7,223.1 336.1,223.0 336.4,223.0 336.8,223.0 337.2,223.0 337.5,223.1 337.9,223.2 338.3,223.1 338.7,223.2 339.0,223.2 339.4,223.3 339.8,223.3 340.1,223.3 340.5,223.3 340.9,223.3 341.2,223.2 341.6,223.2 342.0,223.1 342.3,223.1 342.7,223.1 343.1,223.1 343.4,223.0 343.8,223.1 344.2,223.1 344.6,223.1 344.9,223.1 345.3,223.0 345.7,223.0 346.0,223.0 346.4,223.0 346.8,223.0 347.1,223.0 347.5,223.1 347.9,223.0 348.2,223.1 348.6,223.1 349.0,223.1 349.4,223.1 349.7,223.1 350.1,223.2 350.5,223.3 350.8,223.2 351.2,223.2 351.6,223.2 351.9,223.1 352.3,223.1 352.7,223.1 353.0,223.1 353.4,223.2 353.8,223.1 354.1,223.1 354.5,223.2 354.9,223.1 355.3,223.1 355.6,223.0 356.0,223.0 356.4,223.0 356.7,222.9 357.1,222.9 357.5,222.9 357.8,223.0 358.2,222.9 358.6,222.8 358.9,222.8 359.3,222.8 359.7,222.8 360.0,222.8 360.4,222.7 360.8,222.7 361.2,222.8 361.5,222.8 361.9,222.8 362.3,222.8 362.6,222.8 363.0,222.8 363.4,222.8 363.7,222.8 364.1,222.8 364.5,222.8 364.8,222.7 365.2,222.6 365.6,222.6 365.9,222.6 366.3,222.5 366.7,222.5 367.1,222.5 367.4,222.4 367.8,222.5 368.2,222.5 368.5,222.4 368.9,222.3 369.3,222.2 369.6,222.1 370.0,222.1 370.4,222.0 370.7,221.9 371.1,221.9 371.5,221.9 371.8,221.9 372.2,222.0 372.6,221.9 373.0,221.9 373.3,221.8 373.7,221.9 374.1,221.8 374.4,221.7 374.8,221.7 375.2,221.6 375.5,221.6 375.9,221.6 376.3,221.5 376.6,221.5 377.0,221.4 377.4,221.4 377.8,221.3 378.1,221.1 378.5,221.0 378.9,220.9 379.2,220.8 379.6,220.7 380.0,220.6 380.3,220.4 380.7,220.3 381.1,220.2 381.4,220.1 381.8,220.0 382.2,219.8 382.5,219.6 382.9,219.5 383.3,219.4 383.7,219.3 384.0,219.0 384.4,218.9 384.8,218.8 385.1,218.7 385.5,218.5 385.9,218.2 386.2,218.0 386.6,217.8 387.0,217.5 387.3,217.1 387.7,216.8 388.1,216.4 388.4,216.1 388.8,215.7 389.2,215.3 389.6,214.9 389.9,214.5 390.3,213.9 390.7,213.4 391.0,212.8 391.4,212.0 391.8,211.3 392.1,210.5 392.5,209.5 392.9,208.6 393.2,207.5 393.6,206.4 394.0,205.3 394.3,204.2 394.7,203.1 395.1,202.2 395.5,201.3 395.8,200.5 396.2,199.9 396.6,199.4 396.9,198.9 397.3,198.6 397.7,198.1 398.0,197.7 398.4,197.0 398.8,196.0 399.1,194.9 399.5,193.4 399.9,191.5 400.2,189.2 400.6,186.5 401.0,183.3 401.4,179.9 401.7,175.8 402.1,171.6 402.5,167.2 402.8,163.1 403.2,159.7 403.6,157.4 403.9,156.4 404.3,157.1 404.7,159.3 405.0,162.7 405.4,167.1 405.8,171.8 406.1,176.6 406.5,181.2 406.9,185.5 407.3,189.4 407.6,193.0 408.0,196.0 408.4,198.8 408.7,201.1 409.1,203.3 409.5,205.1 409.8,206.8 410.2,208.3 410.6,209.6 410.9,210.9 411.3,211.9 411.7,212.8 412.1,213.6 412.4,214.4 412.8,214.9 413.2,215.5 413.5,216.0 413.9,216.4 414.3,216.9 414.6,217.3 415.0,217.7 415.4,218.1 415.7,218.4 416.1,218.7 416.5,219.0 416.8,219.2 417.2,219.4 417.6,219.5 418.0,219.7 418.3,219.9 418.7,220.1 419.1,220.3 419.4,220.4 419.8,220.6 420.2,220.8 420.5,220.9 420.9,221.1 421.3,221.1 421.6,221.1 422.0,221.2 422.4,221.3 422.7,221.4 423.1,221.4 423.5,221.5 423.9,221.7 424.2,221.8 424.6,221.9 425.0,222.0 425.3,221.9 425.7,222.0 426.1,222.0 426.4,222.0 426.8,222.1 427.2,222.1 427.5,222.1 427.9,222.3 428.3,222.3 428.6,222.4 429.0,222.4 429.4,222.4 429.8,222.5 430.1,222.5 430.5,222.5 430.9,222.6 431.2,222.5 431.6,222.5 432.0,222.7 432.3,222.6 432.7,222.6 433.1,222.6 433.4,222.6 433.8,222.7 434.2,222.7 434.5,222.7 434.9,222.8 435.3,222.9 435.7,223.0 436.0,223.0 436.4,223.1 436.8,223.1 437.1,223.1 437.5,223.1 437.9,223.2 438.2,223.1 438.6,223.1 439.0,223.1 439.3,223.2 439.7,223.1 440.1,223.1 440.4,223.0 440.8,223.1 441.2,223.1 441.6,223.1 441.9,223.1 442.3,223.1 442.7,223.2 443.0,223.2 443.4,223.2"/>
<polyline fill="none" stroke="#EDB120" stroke-width="1.4" stroke-linejoin="round" points="277.8,182.8 278.2,182.8 278.5,182.8 278.9,182.7 279.3,182.8 279.6,182.8 280.0,182.8 280.4,182.9 280.8,182.9 281.1,182.9 281.5,183.0 281.9,182.9 282.2,182.8 282.6,182.8 283.0,182.7 283.3,182.7 283.7,182.6 284.1,182.6 284.4,182.7 284.8,182.8 285.2,182.8 285.5,182.8 285.9,182.8 286.3,182.8 286.7,182.8 287.0,182.7 287.4,182.6 287.8,182.6 288.1,182.6 288.5,182.6 288.9,182.6 289.2,182.6 289.6,182.6 290.0,182.5 290.3,182.5 290.7,182.5 291.1,182.5 291.4,182.5 291.8,182.4 292.2,182.5 292.6,182.5 292.9,182.5 293.3,182.4 293.7,182.4 294.0,182.3 294.4,182.3 294.8,182.3 295.1,182.2 295.5,182.2 295.9,182.2 296.2,182.1 296.6,182.2 297.0,182.2 297.3,182.2 297.7,182.2 298.1,182.1 298.5,182.2 298.8,182.1 299.2,182.2 299.6,182.2 299.9,182.2 300.3,182.2 300.7,182.1 301.0,182.1 301.4,182.0 301.8,181.9 302.1,181.9 302.5,181.8 302.9,181.8 303.2,181.8 303.6,181.8 304.0,181.7 304.4,181.6 304.7,181.6 305.1,181.5 305.5,181.4 305.8,181.3 306.2,181.3 306.6,181.2 306.9,181.2 307.3,181.2 307.7,181.0 308.0,180.9 308.4,180.9 308.8,180.8 309.1,180.6 309.5,180.5 309.9,180.4 310.3,180.3 310.6,180.3 311.0,180.2 311.4,180.3 311.7,180.4 312.1,180.5 312.5,180.5 312.8,180.7 313.2,180.8 313.6,181.0 313.9,181.1 314.3,181.2 314.7,181.3 315.1,181.3 315.4,181.4 315.8,181.4 316.2,181.4 316.5,181.4 316.9,181.5 317.3,181.6 317.6,181.7 318.0,181.8 318.4,182.0 318.7,182.0 319.1,182.0 319.5,182.0 319.8,181.9 320.2,181.9 320.6,181.9 321.0,182.0 321.3,182.1 321.7,182.1 322.1,182.1 322.4,182.1 322.8,182.2 323.2,182.2 323.5,182.2 323.9,182.2 324.3,182.3 324.6,182.3 325.0,182.4 325.4,182.3 325.7,182.3 326.1,182.3 326.5,182.4 326.9,182.4 327.2,182.4 327.6,182.4 328.0,182.4 328.3,182.5 328.7,182.5 329.1,182.5 329.4,182.5 329.8,182.6 330.2,182.5 330.5,182.6 330.9,182.7 331.3,182.6 331.6,182.7 332.0,182.7 332.4,182.7 332.8,182.8 333.1,182.7 333.5,182.7 333.9,182.6 334.2,182.7 334.6,182.6 335.0,182.6 335.3,182.6 335.7,182.7 336.1,182.7 336.4,182.7 336.8,182.7 337.2,182.7 337.5,182.7 337.9,182.7 338.3,182.6 338.7,182.6 339.0,182.6 339.4,182.6 339.8,182.7 340.1,182.6 340.5,182.7 340.9,182.7 341.2,182.7 341.6,182.8 342.0,182.8 342.3,182.7 342.7,182.7 343.1,182.7 343.4,182.8 343.8,182.8 344.2,182.7 344.6,182.7 344.9,182.6 345.3,182.6 345.7,182.6 346.0,182.5 346.4,182.4 346.8,182.4 347.1,182.5 347.5,182.5 347.9,182.5 348.2,182.5 348.6,182.5 349.0,182.6 349.4,182.7 349.7,182.7 350.1,182.8 350.5,182.8 350.8,182.8 351.2,182.9 351.6,182.8 351.9,182.7 352.3,182.7 352.7,182.5 353.0,182.5 353.4,182.5 353.8,182.4 354.1,182.4 354.5,182.4 354.9,182.4 355.3,182.5 355.6,182.5 356.0,182.5 356.4,182.6 356.7,182.6 357.1,182.6 357.5,182.7 357.8,182.6 358.2,182.6 358.6,182.6 358.9,182.6 359.3,182.6 359.7,182.5 360.0,182.5 360.4,182.5 360.8,182.5 361.2,182.5 361.5,182.4 361.9,182.3 362.3,182.3 362.6,182.3 363.0,182.2 363.4,182.2 363.7,182.2 364.1,182.1 364.5,182.1 364.8,182.1 365.2,182.0 365.6,182.0 365.9,182.0 366.3,181.9 366.7,181.9 367.1,181.9 367.4,182.0 367.8,181.9 368.2,181.9 368.5,181.9 368.9,181.9 369.3,182.0 369.6,181.8 370.0,181.7 370.4,181.8 370.7,181.7 371.1,181.7 371.5,181.6 371.8,181.5 372.2,181.6 372.6,181.6 373.0,181.5 373.3,181.5 373.7,181.5 374.1,181.5 374.4,181.4 374.8,181.3 375.2,181.2 375.5,181.1 375.9,181.0 376.3,180.8 376.6,180.8 377.0,180.7 377.4,180.6 377.8,180.6 378.1,180.4 378.5,180.4 378.9,180.4 379.2,180.3 379.6,180.2 380.0,180.2 380.3,180.0 380.7,180.0 381.1,179.9 381.4,179.8 381.8,179.7 382.2,179.6 382.5,179.4 382.9,179.3 383.3,179.1 383.7,178.8 384.0,178.7 384.4,178.5 384.8,178.4 385.1,178.2 385.5,177.9 385.9,177.7 386.2,177.6 386.6,177.3 387.0,177.1 387.3,176.7 387.7,176.5 388.1,176.2 388.4,175.8 388.8,175.3 389.2,175.0 389.6,174.4 389.9,174.0 390.3,173.5 390.7,172.8 391.0,172.3 391.4,171.6 391.8,170.8 392.1,170.0 392.5,169.0 392.9,168.0 393.2,166.9 393.6,165.8 394.0,164.7 394.3,163.5 394.7,162.5 395.1,161.4 395.5,160.5 395.8,159.8 396.2,159.1 396.6,158.6 396.9,158.3 397.3,158.0 397.7,157.6 398.0,157.1 398.4,156.3 398.8,155.4 399.1,154.2 399.5,152.7 399.9,150.7 400.2,148.5 400.6,145.8 401.0,142.7 401.4,139.1 401.7,135.2 402.1,130.9 402.5,126.6 402.8,122.4 403.2,118.9 403.6,116.6 403.9,115.7 404.3,116.3 404.7,118.5 405.0,122.0 405.4,126.3 405.8,131.1 406.1,135.9 406.5,140.6 406.9,144.9 407.3,148.9 407.6,152.4 408.0,155.6 408.4,158.4 408.7,160.8 409.1,162.9 409.5,164.7 409.8,166.4 410.2,167.8 410.6,169.1 410.9,170.1 411.3,171.2 411.7,172.2 412.1,173.0 412.4,173.7 412.8,174.4 413.2,175.0 413.5,175.5 413.9,176.0 414.3,176.5 414.6,176.9 415.0,177.2 415.4,177.5 415.7,177.8 416.1,178.1 416.5,178.4 416.8,178.6 417.2,178.8 417.6,179.0 418.0,179.2 418.3,179.4 418.7,179.5 419.1,179.6 419.4,179.9 419.8,179.9 420.2,180.1 420.5,180.2 420.9,180.3 421.3,180.4 421.6,180.4 422.0,180.5 422.4,180.7 422.7,180.8 423.1,180.9 423.5,180.9 423.9,181.1 424.2,181.1 424.6,181.2 425.0,181.3 425.3,181.3 425.7,181.3 426.1,181.4 426.4,181.5 426.8,181.5 427.2,181.6 427.5,181.6 427.9,181.7 428.3,181.7 428.6,181.7 429.0,181.8 429.4,181.9 429.8,181.9 430.1,181.9 430.5,181.9 430.9,182.0 431.2,182.1 431.6,182.2 432.0,182.2 432.3,182.3 432.7,182.3 433.1,182.4 433.4,182.2 433.8,182.2 434.2,182.2 434.5,182.2 434.9,182.3 435.3,182.3 435.7,182.4 436.0,182.6 436.4,182.6 436.8,182.7 437.1,182.7 437.5,182.8 437.9,182.8 438.2,182.8 438.6,182.8 439.0,182.7 439.3,182.7 439.7,182.7 440.1,182.6 440.4,182.6 440.8,182.6 441.2,182.5 441.6,182.6 441.9,182.7 442.3,182.7 442.7,182.7 443.0,182.7 443.4,182.8"/>
<polyline fill="none" stroke="#7E2F8E" stroke-width="1.4" stroke-linejoin="round" points="277.8,142.3 278.2,142.4 278.5,142.3 278.9,142.3 279.3,142.3 279.6,142.2 280.0,142.3 280.4,142.3 280.8,142.3 281.1,142.2 281.5,142.2 281.9,142.1 282.2,142.1 282.6,142.1 283.0,142.1 283.3,142.1 283.7,142.2 284.1,142.1 284.4,142.2 284.8,142.1 285.2,142.2 285.5,142.1 285.9,142.0 286.3,142.0 286.7,142.1 287.0,142.0 287.4,142.0 287.8,141.9 288.1,142.0 288.5,142.0 288.9,142.1 289.2,142.0 289.6,142.0 290.0,142.1 290.3,142.1 290.7,142.0 291.1,141.9 291.4,141.8 291.8,141.8 292.2,141.8 292.6,141.7 292.9,141.7 293.3,141.8 293.7,141.8 294.0,141.8 294.4,141.8 294.8,141.8 295.1,141.7 295.5,141.7 295.9,141.6 296.2,141.6 296.6,141.6 297.0,141.6 297.3,141.6 297.7,141.7 298.1,141.7 298.5,141.7 298.8,141.7 299.2,141.6 299.6,141.5 299.9,141.5 300.3,141.4 300.7,141.4 301.0,141.4 301.4,141.3 301.8,141.2 302.1,141.2 302.5,141.1 302.9,141.0 303.2,140.9 303.6,140.9 304.0,140.8 304.4,140.8 304.7,140.7 305.1,140.7 305.5,140.7 305.8,140.7 306.2,140.6 306.6,140.6 306.9,140.5 307.3,140.5 307.7,140.4 308.0,140.3 308.4,140.2 308.8,140.1 309.1,140.0 309.5,139.9 309.9,139.7 310.3,139.7 310.6,139.7 311.0,139.7 311.4,139.7 311.7,139.8 312.1,139.9 312.5,140.0 312.8,140.1 313.2,140.1 313.6,140.2 313.9,140.2 314.3,140.3 314.7,140.4 315.1,140.5 315.4,140.6 315.8,140.7 316.2,140.8 316.5,140.8 316.9,140.9 317.3,141.1 317.6,141.2 318.0,141.3 318.4,141.3 318.7,141.4 319.1,141.5 319.5,141.5 319.8,141.4 320.2,141.4 320.6,141.4 321.0,141.5 321.3,141.4 321.7,141.4 322.1,141.5 322.4,141.5 322.8,141.5 323.2,141.6 323.5,141.6 323.9,141.8 324.3,141.8 324.6,141.8 325.0,141.8 325.4,141.9 325.7,141.9 326.1,141.9 326.5,141.9 326.9,141.9 327.2,141.9 327.6,141.8 328.0,141.8 328.3,141.8 328.7,141.8 329.1,141.9 329.4,141.9 329.8,141.9 330.2,141.9 330.5,141.9 330.9,141.9 331.3,141.9 331.6,141.9 332.0,141.9 332.4,141.9 332.8,141.9 333.1,142.0 333.5,141.9 333.9,141.9 334.2,141.9 334.6,141.9 335.0,141.9 335.3,141.9 335.7,141.9 336.1,141.9 336.4,141.9 336.8,141.8 337.2,141.9 337.5,142.0 337.9,142.1 338.3,142.1 338.7,142.2 339.0,142.2 339.4,142.2 339.8,142.2 340.1,142.2 340.5,142.1 340.9,142.1 341.2,142.0 341.6,142.0 342.0,142.0 342.3,141.9 342.7,141.9 343.1,141.9 343.4,142.0 343.8,142.0 344.2,142.0 344.6,142.1 344.9,142.0 345.3,142.1 345.7,142.1 346.0,142.1 346.4,142.1 346.8,142.1 347.1,142.1 347.5,142.2 347.9,142.2 348.2,142.1 348.6,142.2 349.0,142.1 349.4,142.1 349.7,142.1 350.1,142.0 350.5,141.9 350.8,141.9 351.2,141.9 351.6,142.0 351.9,141.9 352.3,141.9 352.7,142.0 353.0,142.0 353.4,142.0 353.8,142.0 354.1,142.0 354.5,142.1 354.9,142.0 355.3,141.9 355.6,142.0 356.0,142.0 356.4,142.0 356.7,142.0 357.1,142.0 357.5,142.0 357.8,142.0 358.2,141.9 358.6,141.9 358.9,141.8 359.3,141.8 359.7,141.8 360.0,141.8 360.4,141.8 360.8,141.8 361.2,141.8 361.5,141.7 361.9,141.6 362.3,141.6 362.6,141.6 363.0,141.5 363.4,141.5 363.7,141.5 364.1,141.5 364.5,141.5 364.8,141.6 365.2,141.5 365.6,141.5 365.9,141.4 366.3,141.4 366.7,141.5 367.1,141.4 367.4,141.4 367.8,141.5 368.2,141.4 368.5,141.4 368.9,141.5 369.3,141.5 369.6,141.4 370.0,141.3 370.4,141.2 370.7,141.3 371.1,141.2 371.5,141.2 371.8,141.1 372.2,141.1 372.6,141.1 373.0,140.9 373.3,140.8 373.7,140.7 374.1,140.6 374.4,140.6 374.8,140.5 375.2,140.4 375.5,140.5 375.9,140.4 376.3,140.4 376.6,140.3 377.0,140.2 377.4,140.2 377.8,140.2 378.1,140.0 378.5,140.0 378.9,140.0 379.2,139.9 379.6,139.9 380.0,139.8 380.3,139.7 380.7,139.8 381.1,139.7 381.4,139.5 381.8,139.4 382.2,139.3 382.5,139.1 382.9,138.9 383.3,138.7 383.7,138.6 384.0,138.5 384.4,138.4 384.8,138.2 385.1,138.1 385.5,137.9 385.9,137.7 386.2,137.4 386.6,137.2 387.0,137.0 387.3,136.7 387.7,136.4 388.1,136.0 388.4,135.7 388.8,135.3 389.2,134.9 389.6,134.5 389.9,134.0 390.3,133.5 390.7,132.8 391.0,132.0 391.4,131.3 391.8,130.3 392.1,129.2 392.5,128.0 392.9,126.8 393.2,125.4 393.6,123.9 394.0,122.3 394.3,120.9 394.7,119.5 395.1,118.5 395.5,117.8 395.8,117.4 396.2,117.5 396.6,117.7 396.9,117.9 397.3,118.1 397.7,118.1 398.0,117.9 398.4,117.4 398.8,116.5 399.1,115.4 399.5,113.9 399.9,111.9 400.2,109.5 400.6,106.7 401.0,103.4 401.4,99.6 401.7,95.5 402.1,91.0 402.5,86.5 402.8,82.3 403.2,78.7 403.6,76.1 403.9,75.1 404.3,75.7 404.7,77.8 405.0,81.3 405.4,85.6 405.8,90.3 406.1,95.3 406.5,100.0 406.9,104.3 407.3,108.4 407.6,111.8 408.0,115.1 408.4,117.9 408.7,120.3 409.1,122.5 409.5,124.4 409.8,125.9 410.2,127.5 410.6,128.6 410.9,129.7 411.3,130.7 411.7,131.6 412.1,132.3 412.4,133.0 412.8,133.7 413.2,134.3 413.5,134.8 413.9,135.3 414.3,135.7 414.6,136.2 415.0,136.6 415.4,136.9 415.7,137.3 416.1,137.6 416.5,137.9 416.8,138.2 417.2,138.4 417.6,138.5 418.0,138.7 418.3,138.8 418.7,139.0 419.1,139.0 419.4,139.1 419.8,139.2 420.2,139.4 420.5,139.6 420.9,139.8 421.3,139.9 421.6,140.1 422.0,140.2 422.4,140.3 422.7,140.4 423.1,140.3 423.5,140.5 423.9,140.6 424.2,140.7 424.6,140.7 425.0,140.8 425.3,140.9 425.7,141.0 426.1,140.9 426.4,141.0 426.8,141.0 427.2,141.0 427.5,141.0 427.9,141.1 428.3,141.2 428.6,141.2 429.0,141.3 429.4,141.4 429.8,141.4 430.1,141.5 430.5,141.5 430.9,141.5 431.2,141.6 431.6,141.5 432.0,141.6 432.3,141.6 432.7,141.7 433.1,141.7 433.4,141.7 433.8,141.7 434.2,141.8 434.5,141.8 434.9,141.8 435.3,141.9 435.7,141.8 436.0,141.8 436.4,141.8 436.8,141.8 437.1,141.9 437.5,141.8 437.9,141.8 438.2,141.9 438.6,142.0 439.0,142.1 439.3,142.1 439.7,142.1 440.1,142.1 440.4,142.1 440.8,142.0 441.2,142.0 441.6,142.0 441.9,142.0 442.3,142.0 442.7,142.1 443.0,142.1 443.4,142.1"/>
<polyline fill="none" stroke="#77AC30" stroke-width="1.4" stroke-linejoin="round" points="277.8,101.9 278.2,101.9 278.5,101.9 278.9,101.8 279.3,101.8 279.6,101.8 280.0,101.7 280.4,101.6 280.8,101.5 281.1,101.6 281.5,101.6 281.9,101.6 282.2,101.7 282.6,101.7 283.0,101.7 283.3,101.7 283.7,101.6 284.1,101.6 284.4,101.6 284.8,101.5 285.2,101.6 285.5,101.6 285.9,101.6 286.3,101.6 286.7,101.5 287.0,101.5 287.4,101.5 287.8,101.5 288.1,101.5 288.5,101.5 288.9,101.5 289.2,101.5 289.6,101.4 290.0,101.4 290.3,101.3 290.7,101.3 291.1,101.2 291.4,101.2 291.8,101.2 292.2,101.2 292.6,101.2 292.9,101.1 293.3,101.1 293.7,101.1 294.0,101.2 294.4,101.2 294.8,101.1 295.1,101.1 295.5,101.2 295.9,101.1 296.2,101.0 296.6,101.0 297.0,100.9 297.3,100.9 297.7,100.8 298.1,100.8 298.5,100.8 298.8,100.8 299.2,100.8 299.6,100.8 299.9,100.7 300.3,100.7 300.7,100.6 301.0,100.6 301.4,100.6 301.8,100.5 302.1,100.5 302.5,100.6 302.9,100.6 303.2,100.6 303.6,100.6 304.0,100.6 304.4,100.7 304.7,100.6 305.1,100.5 305.5,100.4 305.8,100.4 306.2,100.3 306.6,100.2 306.9,100.1 307.3,100.1 307.7,100.0 308.0,99.9 308.4,99.8 308.8,99.7 309.1,99.6 309.5,99.5 309.9,99.4 310.3,99.4 310.6,99.4 311.0,99.5 311.4,99.4 311.7,99.4 312.1,99.4 312.5,99.5 312.8,99.6 313.2,99.7 313.6,99.7 313.9,99.8 314.3,99.9 314.7,100.0 315.1,100.1 315.4,100.1 315.8,100.1 316.2,100.2 316.5,100.3 316.9,100.4 317.3,100.5 317.6,100.6 318.0,100.7 318.4,100.8 318.7,100.8 319.1,100.9 319.5,100.9 319.8,100.9 320.2,100.9 320.6,100.9 321.0,100.9 321.3,100.9 321.7,101.0 322.1,101.1 322.4,101.1 322.8,101.1 323.2,101.1 323.5,101.2 323.9,101.2 324.3,101.2 324.6,101.1 325.0,101.2 325.4,101.2 325.7,101.3 326.1,101.3 326.5,101.4 326.9,101.4 327.2,101.5 327.6,101.4 328.0,101.4 328.3,101.4 328.7,101.4 329.1,101.4 329.4,101.4 329.8,101.3 330.2,101.4 330.5,101.4 330.9,101.4 331.3,101.5 331.6,101.5 332.0,101.6 332.4,101.6 332.8,101.6 333.1,101.7 333.5,101.7 333.9,101.6 334.2,101.6 334.6,101.6 335.0,101.6 335.3,101.6 335.7,101.6 336.1,101.6 336.4,101.6 336.8,101.6 337.2,101.6 337.5,101.6 337.9,101.6 338.3,101.6 338.7,101.6 339.0,101.6 339.4,101.6 339.8,101.6 340.1,101.6 340.5,101.6 340.9,101.6 341.2,101.6 341.6,101.6 342.0,101.6 342.3,101.6 342.7,101.6 343.1,101.6 343.4,101.7 343.8,101.7 344.2,101.7 344.6,101.8 344.9,101.8 345.3,101.7 345.7,101.7 346.0,101.6 346.4,101.6 346.8,101.6 347.1,101.5 347.5,101.5 347.9,101.6 348.2,101.4 348.6,101.5 349.0,101.5 349.4,101.5 349.7,101.6 350.1,101.6 350.5,101.5 350.8,101.5 351.2,101.5 351.6,101.5 351.9,101.5 352.3,101.5 352.7,101.5 353.0,101.5 353.4,101.6 353.8,101.5 354.1,101.5 354.5,101.4 354.9,101.4 355.3,101.4 355.6,101.4 356.0,101.4 356.4,101.4 356.7,101.4 357.1,101.5 357.5,101.5 357.8,101.4 358.2,101.3 358.6,101.3 358.9,101.3 359.3,101.3 359.7,101.2 360.0,101.2 360.4,101.2 360.8,101.3 361.2,101.2 361.5,101.3 361.9,101.2 362.3,101.3 362.6,101.3 363.0,101.3 363.4,101.2 363.7,101.2 364.1,101.1 364.5,101.1 364.8,101.1 365.2,101.1 365.6,101.0 365.9,101.0 366.3,101.0 366.7,101.1 367.1,101.0 367.4,101.1 367.8,101.0 368.2,101.0 368.5,101.0 368.9,101.1 369.3,100.9 369.6,101.0 370.0,100.9 370.4,100.9 370.7,100.9 371.1,100.8 371.5,100.7 371.8,100.7 372.2,100.6 372.6,100.6 373.0,100.5 373.3,100.4 373.7,100.3 374.1,100.2 374.4,100.2 374.8,100.1 375.2,100.1 375.5,100.1 375.9,100.0 376.3,99.9 376.6,100.0 377.0,99.9 377.4,99.9 377.8,99.7 378.1,99.7 378.5,99.7 378.9,99.5 379.2,99.5 379.6,99.4 380.0,99.3 380.3,99.2 380.7,99.0 381.1,99.0 381.4,98.9 381.8,98.7 382.2,98.5 382.5,98.5 382.9,98.4 383.3,98.2 383.7,98.0 384.0,97.9 384.4,97.8 384.8,97.6 385.1,97.3 385.5,97.1 385.9,97.0 386.2,96.9 386.6,96.6 387.0,96.3 387.3,96.1 387.7,95.9 388.1,95.6 388.4,95.2 388.8,94.8 389.2,94.5 389.6,94.1 389.9,93.5 390.3,93.0 390.7,92.3 391.0,91.6 391.4,90.8 391.8,89.8 392.1,88.8 392.5,87.6 392.9,86.2 393.2,84.8 393.6,83.2 394.0,81.6 394.3,80.0 394.7,78.7 395.1,77.6 395.5,76.9 395.8,76.6 396.2,76.7 396.6,77.1 396.9,77.5 397.3,77.7 397.7,77.7 398.0,77.5 398.4,77.1 398.8,76.2 399.1,75.0 399.5,73.3 399.9,71.4 400.2,69.0 400.6,66.2 401.0,62.9 401.4,59.2 401.7,55.1 402.1,50.6 402.5,46.1 402.8,41.7 403.2,38.1 403.6,35.5 403.9,34.4 404.3,34.9 404.7,37.1 405.0,40.6 405.4,45.0 405.8,49.8 406.1,54.7 406.5,59.4 406.9,63.8 407.3,67.7 407.6,71.3 408.0,74.5 408.4,77.4 408.7,79.8 409.1,81.9 409.5,83.9 409.8,85.6 410.2,87.1 410.6,88.3 410.9,89.4 411.3,90.4 411.7,91.3 412.1,92.1 412.4,92.8 412.8,93.4 413.2,94.0 413.5,94.5 413.9,94.9 414.3,95.4 414.6,95.8 415.0,96.1 415.4,96.6 415.7,96.9 416.1,97.1 416.5,97.3 416.8,97.6 417.2,97.8 417.6,98.1 418.0,98.2 418.3,98.4 418.7,98.6 419.1,98.8 419.4,99.0 419.8,99.1 420.2,99.1 420.5,99.3 420.9,99.5 421.3,99.6 421.6,99.6 422.0,99.7 422.4,99.9 422.7,100.0 423.1,100.1 423.5,100.1 423.9,100.3 424.2,100.4 424.6,100.4 425.0,100.4 425.3,100.4 425.7,100.5 426.1,100.6 426.4,100.6 426.8,100.7 427.2,100.8 427.5,100.9 427.9,100.9 428.3,100.9 428.6,100.8 429.0,100.9 429.4,100.9 429.8,100.9 430.1,101.0 430.5,101.0 430.9,101.0 431.2,101.1 431.6,101.1 432.0,101.1 432.3,101.1 432.7,101.1 433.1,101.1 433.4,101.2 433.8,101.2 434.2,101.2 434.5,101.3 434.9,101.3 435.3,101.4 435.7,101.4 436.0,101.5 436.4,101.5 436.8,101.5 437.1,101.5 437.5,101.5 437.9,101.5 438.2,101.5 438.6,101.5 439.0,101.5 439.3,101.6 439.7,101.6 440.1,101.4 440.4,101.4 440.8,101.5 441.2,101.6 441.6,101.6 441.9,101.6 442.3,101.5 442.7,101.7 443.0,101.7 443.4,101.7"/>
<line x1="277.8" y1="21.2" x2="443.4" y2="21.2" stroke="#555" stroke-width="1.1"/>
<line x1="443.4" y1="21.2" x2="443.4" y2="271.3" stroke="#555" stroke-width="1.1"/>
<line x1="277.8" y1="271.3" x2="443.4" y2="271.3" stroke="#666" stroke-width="1.1"/>
<line x1="277.8" y1="21.2" x2="277.8" y2="271.3" stroke="#c4c4c4" stroke-width="1.8"/>
<text x="296.20" y="283.5" font-size="10.2" text-anchor="middle" >1300</text>
<text x="333.00" y="283.5" font-size="10.2" text-anchor="middle" >1400</text>
<text x="369.80" y="283.5" font-size="10.2" text-anchor="middle" >1500</text>
<text x="406.60" y="283.5" font-size="10.2" text-anchor="middle" >1600</text>
<text x="443.40" y="283.5" font-size="10.2" text-anchor="middle" >1700</text>
<text x="254.5" y="13.7" font-size="13" text-anchor="start" >(b)</text>
<rect x="288.2" y="31.0" width="74.2" height="61.2" fill="#fff" stroke="#6a6a6a" stroke-width="1"/>
<line x1="294.4" y1="38.10" x2="323.4" y2="38.10" stroke="#0072BD" stroke-width="1.5"/>
<text x="326.7" y="41.40" font-size="10.5" text-anchor="start" >Point 1</text>
<line x1="294.4" y1="49.85" x2="323.4" y2="49.85" stroke="#D95319" stroke-width="1.5"/>
<text x="326.7" y="53.15" font-size="10.5" text-anchor="start" >Point 2</text>
<line x1="294.4" y1="61.60" x2="323.4" y2="61.60" stroke="#EDB120" stroke-width="1.5"/>
<text x="326.7" y="64.90" font-size="10.5" text-anchor="start" >Point 3</text>
<line x1="294.4" y1="73.35" x2="323.4" y2="73.35" stroke="#7E2F8E" stroke-width="1.5"/>
<text x="326.7" y="76.65" font-size="10.5" text-anchor="start" >Point 4</text>
<line x1="294.4" y1="85.10" x2="323.4" y2="85.10" stroke="#77AC30" stroke-width="1.5"/>
<text x="326.7" y="88.40" font-size="10.5" text-anchor="start" >Point 5</text>
<text x="283.8" y="250.5" font-size="11.8" text-anchor="start" class="an" >CNTs on PDMS</text>
<text x="0" y="0" font-size="10.5" text-anchor="middle" transform="translate(272.40,145.6) rotate(-90)">Intensity (a.u.)</text>
<text x="360.60" y="298.8" font-size="10.7" text-anchor="middle" >Raman shift (cm<tspan font-size="7.4" dy="-4.6" dx="0.3">-1</tspan><tspan dy="4.6" dx="0.5">)</tspan></text>
<line x1="495.53" y1="271.3" x2="495.53" y2="268.7" stroke="#555" stroke-width="0.9"/>
<line x1="495.53" y1="21.2" x2="495.53" y2="23.8" stroke="#555" stroke-width="0.9"/>
<line x1="532.00" y1="271.3" x2="532.00" y2="268.7" stroke="#555" stroke-width="0.9"/>
<line x1="532.00" y1="21.2" x2="532.00" y2="23.8" stroke="#555" stroke-width="0.9"/>
<line x1="568.47" y1="271.3" x2="568.47" y2="268.7" stroke="#555" stroke-width="0.9"/>
<line x1="568.47" y1="21.2" x2="568.47" y2="23.8" stroke="#555" stroke-width="0.9"/>
<line x1="604.93" y1="271.3" x2="604.93" y2="268.7" stroke="#555" stroke-width="0.9"/>
<line x1="604.93" y1="21.2" x2="604.93" y2="23.8" stroke="#555" stroke-width="0.9"/>
<line x1="641.40" y1="271.3" x2="641.40" y2="268.7" stroke="#555" stroke-width="0.9"/>
<line x1="641.40" y1="21.2" x2="641.40" y2="23.8" stroke="#555" stroke-width="0.9"/>
<line x1="477.3" y1="27.30" x2="479.90000000000003" y2="27.30" stroke="#555" stroke-width="0.9"/>
<line x1="641.4" y1="27.30" x2="638.8" y2="27.30" stroke="#555" stroke-width="0.9"/>
<line x1="477.3" y1="61.07" x2="479.90000000000003" y2="61.07" stroke="#555" stroke-width="0.9"/>
<line x1="641.4" y1="61.07" x2="638.8" y2="61.07" stroke="#555" stroke-width="0.9"/>
<line x1="477.3" y1="94.84" x2="479.90000000000003" y2="94.84" stroke="#555" stroke-width="0.9"/>
<line x1="641.4" y1="94.84" x2="638.8" y2="94.84" stroke="#555" stroke-width="0.9"/>
<line x1="477.3" y1="128.61" x2="479.90000000000003" y2="128.61" stroke="#555" stroke-width="0.9"/>
<line x1="641.4" y1="128.61" x2="638.8" y2="128.61" stroke="#555" stroke-width="0.9"/>
<line x1="477.3" y1="162.38" x2="479.90000000000003" y2="162.38" stroke="#555" stroke-width="0.9"/>
<line x1="641.4" y1="162.38" x2="638.8" y2="162.38" stroke="#555" stroke-width="0.9"/>
<line x1="477.3" y1="196.15" x2="479.90000000000003" y2="196.15" stroke="#555" stroke-width="0.9"/>
<line x1="641.4" y1="196.15" x2="638.8" y2="196.15" stroke="#555" stroke-width="0.9"/>
<line x1="477.3" y1="229.92" x2="479.90000000000003" y2="229.92" stroke="#555" stroke-width="0.9"/>
<line x1="641.4" y1="229.92" x2="638.8" y2="229.92" stroke="#555" stroke-width="0.9"/>
<polyline fill="none" stroke="#0072BD" stroke-width="1.3" stroke-linejoin="round" points="477.3,263.6 477.7,263.7 478.0,263.8 478.4,263.8 478.8,263.9 479.1,263.8 479.5,263.9 479.9,263.9 480.2,263.8 480.6,263.8 481.0,263.8 481.3,263.8 481.7,263.7 482.1,263.8 482.4,263.8 482.8,264.0 483.1,263.9 483.5,263.8 483.9,263.7 484.2,263.8 484.6,263.6 485.0,263.4 485.3,263.2 485.7,263.1 486.1,263.2 486.4,263.2 486.8,263.1 487.2,263.1 487.5,263.2 487.9,263.3 488.3,263.5 488.6,263.3 489.0,263.2 489.4,263.2 489.7,263.2 490.1,263.1 490.5,263.2 490.8,263.0 491.2,262.9 491.6,262.8 491.9,262.8 492.3,262.7 492.7,262.9 493.0,262.8 493.4,262.8 493.7,262.9 494.1,263.0 494.5,263.1 494.8,263.2 495.2,262.9 495.6,262.8 495.9,262.8 496.3,262.8 496.7,262.7 497.0,262.6 497.4,262.3 497.8,262.4 498.1,262.5 498.5,262.3 498.9,262.1 499.2,262.3 499.6,262.1 500.0,262.2 500.3,262.0 500.7,262.0 501.1,262.1 501.4,262.2 501.8,261.9 502.2,261.8 502.5,261.6 502.9,261.6 503.2,261.5 503.6,261.3 504.0,261.3 504.3,261.3 504.7,261.4 505.1,261.7 505.4,261.6 505.8,261.4 506.2,261.1 506.5,260.8 506.9,260.7 507.3,260.5 507.6,260.2 508.0,260.1 508.4,260.2 508.7,260.1 509.1,260.0 509.5,260.0 509.8,260.0 510.2,259.8 510.6,259.6 510.9,259.4 511.3,259.7 511.7,259.8 512.0,259.8 512.4,259.8 512.8,260.1 513.1,260.3 513.5,260.4 513.8,260.6 514.2,260.6 514.6,260.7 514.9,260.9 515.3,260.8 515.7,260.8 516.0,261.0 516.4,261.1 516.8,261.4 517.1,261.4 517.5,261.5 517.9,261.6 518.2,261.6 518.6,261.7 519.0,261.7 519.3,261.6 519.7,261.8 520.1,261.9 520.4,262.2 520.8,262.4 521.2,262.5 521.5,262.6 521.9,262.8 522.3,262.7 522.6,262.9 523.0,262.7 523.4,263.0 523.7,263.0 524.1,262.9 524.4,262.9 524.8,263.0 525.2,263.0 525.5,263.3 525.9,263.2 526.3,263.1 526.6,263.3 527.0,263.2 527.4,263.3 527.7,263.4 528.1,263.2 528.5,263.3 528.8,263.2 529.2,263.2 529.6,263.2 529.9,263.1 530.3,263.2 530.7,263.3 531.0,263.3 531.4,263.5 531.8,263.3 532.1,263.3 532.5,263.4 532.9,263.4 533.2,263.5 533.6,263.5 533.9,263.6 534.3,263.6 534.7,263.7 535.0,263.7 535.4,263.5 535.8,263.2 536.1,263.2 536.5,263.2 536.9,263.3 537.2,263.3 537.6,263.2 538.0,263.5 538.3,263.5 538.7,263.6 539.1,263.5 539.4,263.5 539.8,263.3 540.2,263.3 540.5,263.4 540.9,263.5 541.3,263.5 541.6,263.5 542.0,263.5 542.4,263.6 542.7,263.7 543.1,263.4 543.5,263.4 543.8,263.4 544.2,263.5 544.5,263.5 544.9,263.5 545.3,263.6 545.6,263.6 546.0,263.6 546.4,263.5 546.7,263.4 547.1,263.4 547.5,263.2 547.8,263.1 548.2,263.2 548.6,263.2 548.9,263.1 549.3,263.1 549.7,263.1 550.0,263.2 550.4,263.3 550.8,263.2 551.1,263.1 551.5,263.2 551.9,263.2 552.2,263.3 552.6,263.2 553.0,263.1 553.3,263.2 553.7,263.2 554.1,263.3 554.4,263.1 554.8,263.1 555.1,263.2 555.5,263.2 555.9,263.2 556.2,263.1 556.6,263.1 557.0,263.3 557.3,263.5 557.7,263.5 558.1,263.4 558.4,263.3 558.8,263.2 559.2,263.3 559.5,263.1 559.9,263.0 560.3,262.9 560.6,263.0 561.0,262.8 561.4,262.9 561.7,262.7 562.1,262.8 562.5,262.8 562.8,262.9 563.2,262.9 563.6,262.9 563.9,262.7 564.3,262.7 564.6,262.6 565.0,262.5 565.4,262.4 565.7,262.4 566.1,262.4 566.5,262.6 566.8,262.6 567.2,262.7 567.6,262.8 567.9,262.8 568.3,262.9 568.7,263.0 569.0,262.8 569.4,262.9 569.8,262.7 570.1,262.4 570.5,262.2 570.9,262.0 571.2,261.7 571.6,261.7 572.0,261.6 572.3,261.5 572.7,261.7 573.1,261.8 573.4,261.6 573.8,261.6 574.2,261.6 574.5,261.5 574.9,261.4 575.2,261.0 575.6,260.8 576.0,260.5 576.3,260.5 576.7,260.4 577.1,260.2 577.4,260.2 577.8,260.2 578.2,260.0 578.5,260.0 578.9,259.9 579.3,259.6 579.6,259.3 580.0,259.1 580.4,258.8 580.7,258.8 581.1,258.7 581.5,258.4 581.8,258.3 582.2,258.1 582.6,258.0 582.9,257.8 583.3,257.6 583.7,257.3 584.0,257.0 584.4,256.7 584.8,256.6 585.1,256.4 585.5,256.2 585.8,255.9 586.2,255.4 586.6,255.1 586.9,254.8 587.3,254.5 587.7,254.0 588.0,253.7 588.4,253.0 588.8,252.7 589.1,252.0 589.5,251.3 589.9,250.5 590.2,249.5 590.6,248.5 591.0,247.7 591.3,246.5 591.7,245.5 592.1,244.2 592.4,242.8 592.8,241.6 593.2,240.1 593.5,238.7 593.9,237.3 594.3,236.0 594.6,235.0 595.0,234.3 595.3,233.7 595.7,233.2 596.1,232.6 596.4,232.3 596.8,231.8 597.2,231.1 597.5,230.2 597.9,229.1 598.3,227.4 598.6,225.6 599.0,223.3 599.4,220.9 599.7,217.9 600.1,215.0 600.5,211.6 600.8,208.4 601.2,205.2 601.6,202.3 601.9,199.7 602.3,198.1 602.7,197.0 603.0,197.0 603.4,198.2 603.8,200.1 604.1,202.9 604.5,206.3 604.9,210.0 605.2,213.9 605.6,217.9 605.9,222.0 606.3,226.0 606.7,229.6 607.0,232.9 607.4,236.1 607.8,239.2 608.1,242.0 608.5,244.2 608.9,246.1 609.2,248.0 609.6,249.6 610.0,250.9 610.3,251.9 610.7,252.9 611.1,254.0 611.4,254.5 611.8,255.1 612.2,255.8 612.5,256.6 612.9,257.1 613.3,257.5 613.6,257.9 614.0,258.3 614.4,258.7 614.7,258.9 615.1,259.0 615.5,259.2 615.8,259.5 616.2,259.7 616.5,259.7 616.9,260.0 617.3,260.3 617.6,260.4 618.0,260.6 618.4,260.7 618.7,260.9 619.1,261.2 619.5,261.1 619.8,261.1 620.2,261.3 620.6,261.2 620.9,261.3 621.3,261.3 621.7,261.5 622.0,261.6 622.4,261.8 622.8,261.7 623.1,262.0 623.5,261.8 623.9,261.9 624.2,262.0 624.6,262.1 625.0,262.3 625.3,262.5 625.7,262.4 626.0,262.6 626.4,262.5 626.8,262.5 627.1,262.5 627.5,262.6 627.9,262.6 628.2,262.7 628.6,262.8 629.0,262.9 629.3,262.9 629.7,263.0 630.1,263.1 630.4,263.1 630.8,263.0 631.2,263.0 631.5,262.9 631.9,262.9 632.3,262.7 632.6,262.6 633.0,262.7 633.4,262.8 633.7,262.9 634.1,263.0 634.5,263.1 634.8,263.1 635.2,263.2 635.6,263.0 635.9,263.0 636.3,262.9 636.6,262.9 637.0,263.0 637.4,263.1 637.7,263.1 638.1,263.1 638.5,263.1 638.8,263.2 639.2,263.1 639.6,263.1 639.9,263.0 640.3,263.1 640.7,263.1 641.0,263.1 641.4,263.1"/>
<polyline fill="none" stroke="#D95319" stroke-width="1.3" stroke-linejoin="round" points="477.3,223.6 477.7,223.5 478.0,223.3 478.4,223.3 478.8,222.9 479.1,222.9 479.5,223.4 479.9,223.5 480.2,223.5 480.6,223.5 481.0,223.4 481.3,223.9 481.7,223.7 482.1,223.1 482.4,222.9 482.8,223.1 483.1,223.3 483.5,223.4 483.9,223.2 484.2,223.3 484.6,223.8 485.0,223.9 485.3,223.5 485.7,223.7 486.1,223.7 486.4,223.6 486.8,224.0 487.2,224.0 487.5,224.2 487.9,224.3 488.3,224.2 488.6,224.0 489.0,223.5 489.4,223.1 489.7,222.8 490.1,222.7 490.5,223.1 490.8,222.7 491.2,222.8 491.6,223.1 491.9,222.6 492.3,222.6 492.7,222.5 493.0,221.9 493.4,222.3 493.7,222.5 494.1,222.7 494.5,223.3 494.8,223.3 495.2,223.4 495.6,223.3 495.9,222.7 496.3,222.3 496.7,222.3 497.0,222.0 497.4,222.0 497.8,222.1 498.1,222.3 498.5,222.4 498.9,222.5 499.2,222.1 499.6,221.9 500.0,222.2 500.3,221.9 500.7,222.1 501.1,222.0 501.4,222.2 501.8,222.2 502.2,222.3 502.5,221.9 502.9,221.8 503.2,221.9 503.6,221.5 504.0,221.3 504.3,221.1 504.7,220.9 505.1,220.8 505.4,220.3 505.8,219.8 506.2,219.7 506.5,219.7 506.9,219.6 507.3,219.5 507.6,219.4 508.0,219.5 508.4,219.2 508.7,218.8 509.1,218.5 509.5,218.3 509.8,218.0 510.2,217.5 510.6,217.4 510.9,217.3 511.3,217.8 511.7,217.6 512.0,217.8 512.4,218.1 512.8,218.7 513.1,219.2 513.5,219.6 513.8,219.7 514.2,220.2 514.6,220.4 514.9,221.0 515.3,221.6 515.7,221.8 516.0,222.1 516.4,222.5 516.8,222.5 517.1,222.9 517.5,222.5 517.9,222.4 518.2,222.5 518.6,222.7 519.0,222.4 519.3,222.9 519.7,223.0 520.1,223.0 520.4,222.8 520.8,222.8 521.2,222.6 521.5,222.9 521.9,222.3 522.3,222.5 522.6,222.7 523.0,222.7 523.4,222.4 523.7,222.2 524.1,222.4 524.4,223.0 524.8,222.8 525.2,222.6 525.5,222.5 525.9,222.7 526.3,222.6 526.6,222.7 527.0,222.3 527.4,222.5 527.7,222.9 528.1,223.0 528.5,222.8 528.8,223.4 529.2,223.3 529.6,223.8 529.9,223.7 530.3,223.8 530.7,223.7 531.0,224.2 531.4,224.1 531.8,223.8 532.1,223.6 532.5,223.6 532.9,223.4 533.2,223.5 533.6,223.7 533.9,223.4 534.3,223.6 534.7,223.4 535.0,223.9 535.4,224.3 535.8,224.7 536.1,224.5 536.5,224.5 536.9,224.5 537.2,224.7 537.6,224.3 538.0,223.8 538.3,223.4 538.7,223.2 539.1,223.4 539.4,223.9 539.8,224.0 540.2,223.7 540.5,224.0 540.9,223.9 541.3,224.1 541.6,224.3 542.0,223.6 542.4,223.6 542.7,224.1 543.1,224.6 543.5,224.7 543.8,224.9 544.2,225.2 544.5,225.2 544.9,225.1 545.3,225.2 545.6,224.5 546.0,224.3 546.4,224.0 546.7,223.5 547.1,224.0 547.5,224.4 547.8,224.3 548.2,224.6 548.6,224.6 548.9,224.7 549.3,225.0 549.7,224.9 550.0,224.6 550.4,224.4 550.8,224.0 551.1,224.3 551.5,224.3 551.9,224.2 552.2,224.0 552.6,224.2 553.0,224.1 553.3,223.9 553.7,223.8 554.1,223.6 554.4,223.2 554.8,223.3 555.1,223.3 555.5,223.6 555.9,223.8 556.2,223.6 556.6,223.6 557.0,223.9 557.3,223.5 557.7,223.2 558.1,223.2 558.4,223.3 558.8,223.4 559.2,223.2 559.5,223.2 559.9,223.6 560.3,223.8 560.6,223.9 561.0,223.9 561.4,224.0 561.7,224.0 562.1,224.2 562.5,224.1 562.8,224.2 563.2,224.0 563.6,223.9 563.9,223.8 564.3,223.8 564.6,223.8 565.0,223.7 565.4,223.8 565.7,223.7 566.1,223.9 566.5,223.6 566.8,223.6 567.2,223.4 567.6,223.2 567.9,222.8 568.3,222.6 568.7,222.3 569.0,222.4 569.4,222.4 569.8,222.3 570.1,222.5 570.5,222.4 570.9,222.2 571.2,222.1 571.6,222.1 572.0,222.2 572.3,222.2 572.7,222.1 573.1,221.9 573.4,222.1 573.8,222.2 574.2,221.9 574.5,221.6 574.9,221.5 575.2,221.1 575.6,220.9 576.0,220.6 576.3,220.4 576.7,220.6 577.1,220.2 577.4,220.0 577.8,220.2 578.2,220.4 578.5,220.4 578.9,220.3 579.3,219.9 579.6,219.6 580.0,219.4 580.4,219.5 580.7,219.5 581.1,219.6 581.5,219.5 581.8,219.3 582.2,219.2 582.6,219.2 582.9,218.6 583.3,218.4 583.7,218.1 584.0,218.0 584.4,218.0 584.8,217.6 585.1,217.5 585.5,217.0 585.8,216.3 586.2,215.7 586.6,215.1 586.9,214.7 587.3,214.6 587.7,213.8 588.0,213.6 588.4,213.1 588.8,212.2 589.1,211.5 589.5,210.6 589.9,209.8 590.2,209.0 590.6,208.3 591.0,207.3 591.3,206.4 591.7,205.4 592.1,203.7 592.4,202.6 592.8,201.4 593.2,199.8 593.5,198.9 593.9,197.8 594.3,196.8 594.6,196.4 595.0,195.4 595.3,194.5 595.7,193.8 596.1,192.8 596.4,191.9 596.8,190.9 597.2,190.1 597.5,188.8 597.9,187.8 598.3,186.5 598.6,184.5 599.0,182.4 599.4,179.9 599.7,176.8 600.1,173.7 600.5,170.6 600.8,167.2 601.2,164.4 601.6,161.6 601.9,159.2 602.3,157.3 602.7,156.5 603.0,156.4 603.4,157.5 603.8,159.5 604.1,162.3 604.5,165.5 604.9,169.6 605.2,174.1 605.6,178.2 605.9,182.1 606.3,185.8 606.7,189.2 607.0,193.0 607.4,196.2 607.8,198.8 608.1,201.3 608.5,203.7 608.9,205.7 609.2,207.9 609.6,209.3 610.0,211.0 610.3,212.4 610.7,213.4 611.1,214.5 611.4,215.8 611.8,216.5 612.2,217.2 612.5,217.2 612.9,217.3 613.3,217.7 613.6,218.4 614.0,218.5 614.4,218.5 614.7,218.7 615.1,219.2 615.5,219.7 615.8,219.8 616.2,219.3 616.5,219.5 616.9,220.0 617.3,219.9 617.6,220.2 618.0,220.1 618.4,220.2 618.7,220.8 619.1,220.8 619.5,220.8 619.8,221.2 620.2,221.1 620.6,221.1 620.9,221.4 621.3,221.3 621.7,221.3 622.0,221.3 622.4,221.6 622.8,221.2 623.1,221.8 623.5,222.1 623.9,222.2 624.2,222.6 624.6,223.1 625.0,222.8 625.3,223.5 625.7,223.5 626.0,223.5 626.4,223.7 626.8,223.8 627.1,223.4 627.5,223.1 627.9,222.9 628.2,222.7 628.6,222.9 629.0,222.8 629.3,222.8 629.7,222.7 630.1,223.3 630.4,223.4 630.8,223.6 631.2,223.5 631.5,223.8 631.9,223.4 632.3,223.9 632.6,224.1 633.0,224.2 633.4,224.3 633.7,224.2 634.1,223.7 634.5,223.8 634.8,223.5 635.2,223.3 635.6,223.1 635.9,223.3 636.3,223.3 636.6,223.7 637.0,224.0 637.4,224.0 637.7,224.1 638.1,224.2 638.5,223.6 638.8,224.2 639.2,224.0 639.6,223.4 639.9,223.3 640.3,222.9 640.7,223.0 641.0,223.2 641.4,222.8"/>
<polyline fill="none" stroke="#EDB120" stroke-width="1.3" stroke-linejoin="round" points="477.3,182.8 477.7,182.8 478.0,182.8 478.4,182.8 478.8,182.8 479.1,182.8 479.5,182.8 479.9,182.7 480.2,182.6 480.6,182.5 481.0,182.3 481.3,182.4 481.7,182.3 482.1,182.5 482.4,182.5 482.8,182.7 483.1,182.5 483.5,182.6 483.9,182.5 484.2,182.6 484.6,182.3 485.0,182.4 485.3,182.3 485.7,182.7 486.1,182.6 486.4,182.6 486.8,182.4 487.2,182.5 487.5,182.5 487.9,182.3 488.3,182.1 488.6,182.1 489.0,182.1 489.4,182.1 489.7,182.1 490.1,182.4 490.5,182.5 490.8,182.4 491.2,182.5 491.6,182.5 491.9,182.4 492.3,182.5 492.7,182.3 493.0,182.2 493.4,182.2 493.7,182.2 494.1,182.1 494.5,181.9 494.8,181.7 495.2,181.6 495.6,181.8 495.9,182.0 496.3,181.8 496.7,181.9 497.0,182.0 497.4,182.0 497.8,182.0 498.1,181.8 498.5,181.4 498.9,181.5 499.2,181.6 499.6,181.4 500.0,181.3 500.3,181.2 500.7,181.2 501.1,181.1 501.4,181.0 501.8,180.8 502.2,181.0 502.5,181.0 502.9,181.0 503.2,181.0 503.6,181.0 504.0,181.0 504.3,180.8 504.7,180.7 505.1,180.5 505.4,180.3 505.8,180.3 506.2,180.2 506.5,179.9 506.9,179.9 507.3,179.6 507.6,179.4 508.0,179.2 508.4,179.1 508.7,179.1 509.1,179.1 509.5,179.0 509.8,179.2 510.2,179.1 510.6,179.2 510.9,179.3 511.3,179.3 511.7,179.2 512.0,179.3 512.4,179.4 512.8,179.7 513.1,179.5 513.5,179.6 513.8,179.6 514.2,180.0 514.6,180.0 514.9,180.1 515.3,180.1 515.7,180.2 516.0,180.4 516.4,180.5 516.8,180.4 517.1,180.6 517.5,180.7 517.9,180.9 518.2,181.1 518.6,181.1 519.0,181.1 519.3,181.3 519.7,181.2 520.1,181.4 520.4,181.5 520.8,181.3 521.2,181.5 521.5,181.7 521.9,181.7 522.3,181.8 522.6,181.8 523.0,181.8 523.4,182.0 523.7,182.1 524.1,182.0 524.4,182.2 524.8,182.4 525.2,182.4 525.5,182.5 525.9,182.5 526.3,182.4 526.6,182.3 527.0,182.3 527.4,182.4 527.7,182.5 528.1,182.4 528.5,182.3 528.8,182.3 529.2,182.4 529.6,182.3 529.9,182.3 530.3,182.1 530.7,182.1 531.0,182.2 531.4,182.2 531.8,182.2 532.1,182.3 532.5,182.3 532.9,182.4 533.2,182.3 533.6,182.0 533.9,182.0 534.3,182.0 534.7,182.1 535.0,181.9 535.4,182.1 535.8,182.2 536.1,182.6 536.5,182.7 536.9,182.6 537.2,182.4 537.6,182.6 538.0,182.5 538.3,182.5 538.7,182.7 539.1,182.6 539.4,182.6 539.8,182.7 540.2,182.6 540.5,182.6 540.9,182.5 541.3,182.5 541.6,182.5 542.0,182.5 542.4,182.4 542.7,182.4 543.1,182.4 543.5,182.3 543.8,182.1 544.2,182.2 544.5,182.3 544.9,182.4 545.3,182.3 545.6,182.3 546.0,182.4 546.4,182.6 546.7,182.2 547.1,182.2 547.5,182.2 547.8,182.3 548.2,182.2 548.6,182.1 548.9,182.2 549.3,182.4 549.7,182.5 550.0,182.6 550.4,182.7 550.8,182.8 551.1,183.0 551.5,182.9 551.9,182.9 552.2,182.7 552.6,182.7 553.0,182.7 553.3,182.5 553.7,182.6 554.1,182.7 554.4,182.6 554.8,182.6 555.1,182.5 555.5,182.4 555.9,182.6 556.2,182.5 556.6,182.2 557.0,182.4 557.3,182.5 557.7,182.7 558.1,182.7 558.4,182.5 558.8,182.4 559.2,182.6 559.5,182.6 559.9,182.6 560.3,182.4 560.6,182.4 561.0,182.5 561.4,182.7 561.7,182.6 562.1,182.5 562.5,182.4 562.8,182.5 563.2,182.4 563.6,182.3 563.9,182.2 564.3,182.1 564.6,182.0 565.0,182.1 565.4,181.9 565.7,181.7 566.1,181.8 566.5,181.7 566.8,181.7 567.2,181.8 567.6,181.8 567.9,181.8 568.3,182.0 568.7,181.8 569.0,181.7 569.4,181.7 569.8,181.5 570.1,181.3 570.5,181.2 570.9,181.0 571.2,181.1 571.6,181.1 572.0,180.8 572.3,180.7 572.7,180.7 573.1,180.8 573.4,180.7 573.8,180.6 574.2,180.5 574.5,180.3 574.9,180.5 575.2,180.2 575.6,180.0 576.0,179.9 576.3,179.8 576.7,179.7 577.1,179.8 577.4,179.4 577.8,179.5 578.2,179.3 578.5,179.1 578.9,178.8 579.3,178.6 579.6,178.3 580.0,178.2 580.4,177.8 580.7,177.7 581.1,177.6 581.5,177.4 581.8,177.2 582.2,176.9 582.6,177.0 582.9,176.8 583.3,176.5 583.7,176.4 584.0,176.2 584.4,175.8 584.8,175.6 585.1,175.3 585.5,174.9 585.8,174.6 586.2,174.1 586.6,173.7 586.9,173.5 587.3,173.3 587.7,172.9 588.0,172.4 588.4,172.0 588.8,171.3 589.1,170.8 589.5,170.3 589.9,169.4 590.2,168.5 590.6,167.6 591.0,166.5 591.3,165.6 591.7,164.3 592.1,162.8 592.4,161.4 592.8,160.1 593.2,158.9 593.5,157.4 593.9,156.3 594.3,155.4 594.6,154.3 595.0,153.6 595.3,152.8 595.7,152.2 596.1,151.9 596.4,151.0 596.8,150.3 597.2,149.7 597.5,148.8 597.9,147.6 598.3,146.0 598.6,144.1 599.0,142.1 599.4,139.6 599.7,136.7 600.1,133.7 600.5,130.4 600.8,127.2 601.2,124.1 601.6,121.1 601.9,118.6 602.3,117.0 602.7,115.7 603.0,115.7 603.4,116.6 603.8,118.6 604.1,121.3 604.5,124.6 604.9,128.2 605.2,132.2 605.6,136.3 605.9,140.4 606.3,144.3 606.7,148.3 607.0,151.9 607.4,155.2 607.8,158.2 608.1,160.8 608.5,163.1 608.9,165.0 609.2,166.6 609.6,168.0 610.0,169.2 610.3,170.5 610.7,171.6 611.1,172.5 611.4,173.4 611.8,174.2 612.2,174.9 612.5,175.7 612.9,176.1 613.3,176.4 613.6,176.8 614.0,177.1 614.4,177.4 614.7,177.8 615.1,177.9 615.5,178.3 615.8,178.3 616.2,178.6 616.5,178.9 616.9,178.9 617.3,179.0 617.6,179.3 618.0,179.4 618.4,179.7 618.7,179.8 619.1,179.8 619.5,180.0 619.8,180.1 620.2,180.2 620.6,180.2 620.9,180.6 621.3,180.8 621.7,181.0 622.0,181.1 622.4,181.2 622.8,181.2 623.1,181.3 623.5,181.1 623.9,181.1 624.2,180.9 624.6,181.0 625.0,181.1 625.3,181.0 625.7,181.1 626.0,181.3 626.4,181.3 626.8,181.6 627.1,181.5 627.5,181.5 627.9,181.6 628.2,181.7 628.6,181.5 629.0,181.5 629.3,181.5 629.7,181.5 630.1,181.6 630.4,181.7 630.8,181.8 631.2,181.9 631.5,182.0 631.9,182.1 632.3,182.1 632.6,182.1 633.0,182.1 633.4,182.1 633.7,182.1 634.1,182.1 634.5,182.0 634.8,182.2 635.2,182.1 635.6,182.2 635.9,182.1 636.3,182.3 636.6,182.4 637.0,182.3 637.4,182.3 637.7,182.4 638.1,182.3 638.5,182.5 638.8,182.4 639.2,182.5 639.6,182.6 639.9,182.7 640.3,182.6 640.7,182.6 641.0,182.5 641.4,182.6"/>
<polyline fill="none" stroke="#7E2F8E" stroke-width="1.3" stroke-linejoin="round" points="477.3,142.0 477.7,142.2 478.0,142.4 478.4,142.2 478.8,142.3 479.1,142.3 479.5,142.5 479.9,142.5 480.2,142.2 480.6,142.0 481.0,142.0 481.3,142.0 481.7,142.1 482.1,142.0 482.4,141.9 482.8,142.0 483.1,141.9 483.5,142.0 483.9,141.9 484.2,141.7 484.6,141.8 485.0,141.7 485.3,141.8 485.7,141.8 486.1,141.7 486.4,141.7 486.8,141.7 487.2,141.5 487.5,141.6 487.9,141.4 488.3,141.5 488.6,141.6 489.0,141.6 489.4,141.6 489.7,141.6 490.1,141.7 490.5,141.8 490.8,141.8 491.2,141.7 491.6,141.7 491.9,141.6 492.3,141.5 492.7,141.4 493.0,141.5 493.4,141.4 493.7,141.3 494.1,141.3 494.5,141.2 494.8,141.2 495.2,141.2 495.6,141.1 495.9,141.1 496.3,141.2 496.7,141.1 497.0,141.1 497.4,141.1 497.8,141.1 498.1,141.1 498.5,140.9 498.9,141.0 499.2,141.1 499.6,141.1 500.0,141.1 500.3,141.1 500.7,141.1 501.1,141.1 501.4,140.9 501.8,140.7 502.2,140.7 502.5,140.7 502.9,140.7 503.2,140.4 503.6,140.3 504.0,140.3 504.3,140.2 504.7,140.0 505.1,139.9 505.4,139.5 505.8,139.5 506.2,139.3 506.5,139.0 506.9,139.0 507.3,138.7 507.6,138.5 508.0,138.4 508.4,138.4 508.7,138.2 509.1,138.2 509.5,138.0 509.8,137.9 510.2,137.9 510.6,137.9 510.9,137.9 511.3,137.9 511.7,137.9 512.0,137.9 512.4,138.0 512.8,138.1 513.1,138.3 513.5,138.5 513.8,138.8 514.2,139.0 514.6,139.1 514.9,139.3 515.3,139.7 515.7,139.8 516.0,139.8 516.4,139.9 516.8,140.0 517.1,140.2 517.5,140.5 517.9,140.5 518.2,140.5 518.6,140.6 519.0,140.8 519.3,140.9 519.7,141.0 520.1,140.9 520.4,141.0 520.8,141.1 521.2,141.1 521.5,140.9 521.9,140.9 522.3,141.0 522.6,140.9 523.0,141.0 523.4,140.9 523.7,140.9 524.1,141.1 524.4,141.1 524.8,141.1 525.2,141.3 525.5,141.4 525.9,141.6 526.3,141.7 526.6,141.7 527.0,141.7 527.4,141.8 527.7,141.8 528.1,141.6 528.5,141.8 528.8,142.0 529.2,141.9 529.6,142.0 529.9,141.9 530.3,141.7 530.7,141.9 531.0,141.7 531.4,141.8 531.8,141.8 532.1,141.7 532.5,141.7 532.9,141.7 533.2,141.6 533.6,141.5 533.9,141.4 534.3,141.6 534.7,141.5 535.0,141.5 535.4,141.8 535.8,141.7 536.1,141.8 536.5,141.8 536.9,141.8 537.2,141.8 537.6,141.9 538.0,141.8 538.3,141.9 538.7,142.1 539.1,142.0 539.4,142.0 539.8,142.2 540.2,142.3 540.5,142.4 540.9,142.3 541.3,142.2 541.6,142.3 542.0,142.3 542.4,141.9 542.7,141.8 543.1,141.6 543.5,141.7 543.8,141.6 544.2,141.7 544.5,141.5 544.9,141.7 545.3,141.8 545.6,142.1 546.0,142.1 546.4,142.3 546.7,142.3 547.1,142.4 547.5,142.6 547.8,142.4 548.2,142.3 548.6,142.3 548.9,142.2 549.3,142.1 549.7,142.1 550.0,142.0 550.4,141.9 550.8,141.9 551.1,141.7 551.5,141.7 551.9,141.5 552.2,141.3 552.6,141.3 553.0,141.4 553.3,141.4 553.7,141.5 554.1,141.4 554.4,141.6 554.8,141.8 555.1,141.7 555.5,141.9 555.9,142.0 556.2,142.1 556.6,141.9 557.0,141.8 557.3,141.6 557.7,141.6 558.1,141.3 558.4,141.2 558.8,140.9 559.2,141.0 559.5,141.2 559.9,141.2 560.3,141.3 560.6,141.5 561.0,141.7 561.4,141.7 561.7,141.7 562.1,141.7 562.5,141.6 562.8,141.4 563.2,141.3 563.6,141.2 563.9,141.2 564.3,141.2 564.6,141.1 565.0,141.3 565.4,141.4 565.7,141.5 566.1,141.4 566.5,141.3 566.8,141.3 567.2,141.1 567.6,141.0 567.9,140.9 568.3,140.7 568.7,140.7 569.0,140.8 569.4,140.7 569.8,140.6 570.1,140.5 570.5,140.5 570.9,140.5 571.2,140.4 571.6,140.3 572.0,140.1 572.3,140.1 572.7,140.2 573.1,140.2 573.4,139.9 573.8,139.7 574.2,139.6 574.5,139.6 574.9,139.4 575.2,139.3 575.6,138.9 576.0,138.8 576.3,138.7 576.7,138.4 577.1,138.3 577.4,138.3 577.8,138.2 578.2,138.2 578.5,138.1 578.9,137.9 579.3,137.7 579.6,137.4 580.0,137.4 580.4,137.1 580.7,136.9 581.1,136.7 581.5,136.6 581.8,136.3 582.2,136.0 582.6,135.6 582.9,135.3 583.3,134.9 583.7,134.8 584.0,134.3 584.4,134.0 584.8,133.8 585.1,133.4 585.5,132.8 585.8,132.5 586.2,132.2 586.6,132.0 586.9,131.6 587.3,131.3 587.7,130.9 588.0,130.8 588.4,130.4 588.8,129.9 589.1,129.5 589.5,129.2 589.9,128.7 590.2,128.2 590.6,127.5 591.0,127.0 591.3,126.3 591.7,125.3 592.1,124.1 592.4,123.1 592.8,121.8 593.2,120.4 593.5,118.8 593.9,117.0 594.3,115.2 594.6,113.6 595.0,112.0 595.3,110.7 595.7,110.0 596.1,109.6 596.4,109.4 596.8,109.2 597.2,109.0 597.5,108.5 597.9,107.6 598.3,106.3 598.6,104.5 599.0,102.4 599.4,99.9 599.7,96.8 600.1,93.6 600.5,90.3 600.8,86.9 601.2,83.6 601.6,80.5 601.9,78.1 602.3,76.3 602.7,75.1 603.0,75.0 603.4,75.9 603.8,77.9 604.1,80.6 604.5,83.9 604.9,87.8 605.2,91.8 605.6,96.1 605.9,100.2 606.3,103.9 606.7,107.7 607.0,111.2 607.4,114.3 607.8,117.3 608.1,119.8 608.5,122.0 608.9,124.2 609.2,126.1 609.6,127.7 610.0,129.2 610.3,130.5 610.7,131.7 611.1,132.7 611.4,133.6 611.8,134.3 612.2,134.9 612.5,135.4 612.9,135.9 613.3,136.2 613.6,136.5 614.0,136.8 614.4,137.2 614.7,137.5 615.1,137.8 615.5,138.0 615.8,138.4 616.2,138.6 616.5,138.9 616.9,139.1 617.3,139.4 617.6,139.4 618.0,139.5 618.4,139.8 618.7,139.9 619.1,139.8 619.5,139.7 619.8,139.7 620.2,139.9 620.6,139.9 620.9,139.8 621.3,139.9 621.7,140.0 622.0,140.1 622.4,140.2 622.8,140.3 623.1,140.5 623.5,140.6 623.9,140.6 624.2,140.6 624.6,140.6 625.0,140.7 625.3,140.7 625.7,140.8 626.0,140.9 626.4,141.1 626.8,141.0 627.1,141.1 627.5,141.0 627.9,141.2 628.2,141.2 628.6,141.2 629.0,141.0 629.3,141.3 629.7,141.5 630.1,141.5 630.4,141.4 630.8,141.5 631.2,141.4 631.5,141.4 631.9,141.3 632.3,141.2 632.6,141.4 633.0,141.4 633.4,141.3 633.7,141.4 634.1,141.5 634.5,141.5 634.8,141.3 635.2,141.2 635.6,141.3 635.9,141.5 636.3,141.6 636.6,141.8 637.0,141.8 637.4,141.9 637.7,141.8 638.1,141.7 638.5,141.7 638.8,141.7 639.2,141.4 639.6,141.4 639.9,141.6 640.3,141.7 640.7,141.7 641.0,141.7 641.4,141.6"/>
<polyline fill="none" stroke="#77AC30" stroke-width="1.3" stroke-linejoin="round" points="477.3,102.0 477.7,102.0 478.0,102.0 478.4,101.9 478.8,101.8 479.1,101.5 479.5,101.6 479.9,101.7 480.2,101.6 480.6,101.6 481.0,101.8 481.3,102.1 481.7,102.1 482.1,101.9 482.4,101.8 482.8,101.8 483.1,101.7 483.5,101.7 483.9,101.5 484.2,101.7 484.6,101.7 485.0,101.7 485.3,101.8 485.7,101.7 486.1,101.6 486.4,101.6 486.8,101.6 487.2,101.8 487.5,101.7 487.9,101.8 488.3,101.8 488.6,101.9 489.0,102.0 489.4,102.0 489.7,101.7 490.1,101.7 490.5,101.7 490.8,101.7 491.2,101.7 491.6,101.5 491.9,101.6 492.3,101.6 492.7,101.6 493.0,101.5 493.4,101.5 493.7,101.3 494.1,101.3 494.5,101.4 494.8,101.3 495.2,101.4 495.6,101.3 495.9,101.5 496.3,101.5 496.7,101.2 497.0,101.1 497.4,101.2 497.8,101.1 498.1,101.1 498.5,100.9 498.9,100.9 499.2,100.9 499.6,100.8 500.0,100.6 500.3,100.7 500.7,100.7 501.1,100.6 501.4,100.7 501.8,100.7 502.2,100.7 502.5,100.7 502.9,100.5 503.2,100.4 503.6,100.3 504.0,100.1 504.3,100.1 504.7,99.7 505.1,99.6 505.4,99.5 505.8,99.3 506.2,99.1 506.5,98.8 506.9,98.5 507.3,98.6 507.6,98.4 508.0,98.1 508.4,98.0 508.7,97.9 509.1,98.2 509.5,98.3 509.8,98.0 510.2,98.2 510.6,98.3 510.9,98.3 511.3,98.3 511.7,97.9 512.0,98.1 512.4,98.4 512.8,98.3 513.1,98.5 513.5,98.6 513.8,98.7 514.2,98.8 514.6,98.8 514.9,99.2 515.3,99.4 515.7,99.4 516.0,99.6 516.4,99.9 516.8,99.9 517.1,100.0 517.5,100.0 517.9,100.1 518.2,100.2 518.6,100.3 519.0,100.4 519.3,100.7 519.7,100.7 520.1,100.8 520.4,100.9 520.8,100.9 521.2,100.9 521.5,100.9 521.9,100.9 522.3,101.0 522.6,101.0 523.0,100.8 523.4,100.8 523.7,100.8 524.1,100.8 524.4,101.0 524.8,101.0 525.2,101.0 525.5,101.2 525.9,101.3 526.3,101.3 526.6,101.4 527.0,101.4 527.4,101.3 527.7,101.3 528.1,101.3 528.5,101.3 528.8,101.5 529.2,101.6 529.6,101.4 529.9,101.3 530.3,101.4 530.7,101.4 531.0,101.6 531.4,101.4 531.8,101.3 532.1,101.6 532.5,101.7 532.9,101.7 533.2,101.6 533.6,101.6 533.9,101.6 534.3,101.8 534.7,101.6 535.0,101.6 535.4,101.8 535.8,101.7 536.1,101.5 536.5,101.6 536.9,101.3 537.2,101.5 537.6,101.5 538.0,101.3 538.3,101.6 538.7,101.6 539.1,101.6 539.4,101.8 539.8,101.8 540.2,101.8 540.5,102.0 540.9,101.9 541.3,102.0 541.6,102.1 542.0,102.0 542.4,102.0 542.7,102.1 543.1,102.0 543.5,101.9 543.8,101.8 544.2,101.7 544.5,101.8 544.9,101.7 545.3,101.7 545.6,101.6 546.0,101.5 546.4,101.6 546.7,101.9 547.1,101.6 547.5,101.5 547.8,101.5 548.2,101.5 548.6,101.6 548.9,101.7 549.3,101.5 549.7,101.7 550.0,101.9 550.4,102.0 550.8,102.0 551.1,101.9 551.5,101.9 551.9,101.9 552.2,102.0 552.6,102.0 553.0,101.9 553.3,101.9 553.7,102.1 554.1,102.0 554.4,102.1 554.8,101.9 555.1,101.9 555.5,101.8 555.9,101.7 556.2,101.7 556.6,101.7 557.0,101.7 557.3,101.7 557.7,101.6 558.1,101.7 558.4,101.6 558.8,101.4 559.2,101.3 559.5,101.2 559.9,101.2 560.3,101.0 560.6,100.9 561.0,100.9 561.4,101.0 561.7,101.1 562.1,100.9 562.5,100.9 562.8,101.0 563.2,101.1 563.6,101.1 563.9,101.1 564.3,101.2 564.6,101.5 565.0,101.5 565.4,101.5 565.7,101.5 566.1,101.4 566.5,101.3 566.8,101.0 567.2,100.8 567.6,100.8 567.9,100.8 568.3,100.8 568.7,100.8 569.0,101.0 569.4,101.1 569.8,101.1 570.1,100.9 570.5,100.8 570.9,100.6 571.2,100.6 571.6,100.4 572.0,100.5 572.3,100.4 572.7,100.3 573.1,100.1 573.4,100.0 573.8,100.0 574.2,99.7 574.5,99.5 574.9,99.4 575.2,99.4 575.6,99.4 576.0,99.2 576.3,99.0 576.7,99.0 577.1,98.7 577.4,98.7 577.8,98.6 578.2,98.3 578.5,98.3 578.9,98.1 579.3,98.0 579.6,98.0 580.0,97.9 580.4,97.7 580.7,97.6 581.1,97.3 581.5,97.2 581.8,97.0 582.2,96.8 582.6,96.6 582.9,96.4 583.3,96.4 583.7,96.4 584.0,96.0 584.4,95.8 584.8,95.4 585.1,95.1 585.5,94.6 585.8,94.1 586.2,93.7 586.6,93.2 586.9,92.8 587.3,92.5 587.7,91.9 588.0,91.6 588.4,91.0 588.8,90.3 589.1,89.9 589.5,89.1 589.9,88.3 590.2,87.6 590.6,86.7 591.0,85.6 591.3,84.5 591.7,83.2 592.1,82.0 592.4,80.6 592.8,79.3 593.2,77.8 593.5,76.5 593.9,75.1 594.3,73.8 594.6,72.8 595.0,72.0 595.3,71.0 595.7,70.6 596.1,70.0 596.4,69.4 596.8,68.9 597.2,68.0 597.5,67.1 597.9,66.0 598.3,64.4 598.6,62.6 599.0,60.5 599.4,58.0 599.7,55.2 600.1,52.1 600.5,48.8 600.8,45.5 601.2,42.3 601.6,39.4 601.9,36.9 602.3,35.3 602.7,34.4 603.0,34.4 603.4,35.4 603.8,37.3 604.1,40.0 604.5,43.3 604.9,47.0 605.2,50.9 605.6,55.1 605.9,59.2 606.3,63.2 606.7,67.0 607.0,70.6 607.4,73.9 607.8,76.9 608.1,79.6 608.5,82.0 608.9,84.1 609.2,85.9 609.6,87.5 610.0,88.8 610.3,90.1 610.7,91.1 611.1,92.2 611.4,93.2 611.8,94.1 612.2,94.6 612.5,95.4 612.9,95.8 613.3,96.1 613.6,96.4 614.0,96.5 614.4,96.5 614.7,96.8 615.1,96.7 615.5,97.0 615.8,97.4 616.2,97.5 616.5,97.9 616.9,98.3 617.3,98.7 617.6,98.8 618.0,99.1 618.4,99.1 618.7,99.4 619.1,99.4 619.5,99.5 619.8,99.5 620.2,99.9 620.6,100.1 620.9,100.2 621.3,100.2 621.7,100.1 622.0,100.1 622.4,100.0 622.8,99.9 623.1,99.8 623.5,100.0 623.9,100.0 624.2,100.4 624.6,100.6 625.0,100.7 625.3,100.7 625.7,100.7 626.0,100.6 626.4,100.8 626.8,100.7 627.1,100.7 627.5,100.8 627.9,100.7 628.2,100.9 628.6,100.9 629.0,100.9 629.3,100.9 629.7,101.0 630.1,101.1 630.4,101.3 630.8,101.2 631.2,101.3 631.5,101.3 631.9,101.5 632.3,101.3 632.6,101.4 633.0,101.5 633.4,101.6 633.7,101.5 634.1,101.6 634.5,101.7 634.8,101.6 635.2,101.5 635.6,101.5 635.9,101.3 636.3,101.3 636.6,101.1 637.0,101.0 637.4,101.1 637.7,101.1 638.1,101.1 638.5,101.3 638.8,101.3 639.2,101.2 639.6,101.4 639.9,101.5 640.3,101.6 640.7,101.7 641.0,101.6 641.4,101.7"/>
<line x1="477.3" y1="21.2" x2="641.4" y2="21.2" stroke="#555" stroke-width="1.1"/>
<line x1="641.4" y1="21.2" x2="641.4" y2="271.3" stroke="#555" stroke-width="1.1"/>
<line x1="477.3" y1="271.3" x2="641.4" y2="271.3" stroke="#666" stroke-width="1.1"/>
<line x1="477.3" y1="21.2" x2="477.3" y2="271.3" stroke="#c4c4c4" stroke-width="1.8"/>
<text x="495.53" y="283.5" font-size="10.2" text-anchor="middle" >1300</text>
<text x="532.00" y="283.5" font-size="10.2" text-anchor="middle" >1400</text>
<text x="568.47" y="283.5" font-size="10.2" text-anchor="middle" >1500</text>
<text x="604.93" y="283.5" font-size="10.2" text-anchor="middle" >1600</text>
<text x="641.40" y="283.5" font-size="10.2" text-anchor="middle" >1700</text>
<text x="455.5" y="13.7" font-size="13" text-anchor="start" >(c)</text>
<rect x="486.2" y="30.5" width="74.9" height="61.6" fill="#fff" stroke="#6a6a6a" stroke-width="1"/>
<line x1="492.4" y1="38.10" x2="521.4" y2="38.10" stroke="#0072BD" stroke-width="1.35"/>
<text x="524.7" y="41.40" font-size="10.5" text-anchor="start" >Point 1</text>
<line x1="492.4" y1="49.85" x2="521.4" y2="49.85" stroke="#D95319" stroke-width="1.35"/>
<text x="524.7" y="53.15" font-size="10.5" text-anchor="start" >Point 2</text>
<line x1="492.4" y1="61.60" x2="521.4" y2="61.60" stroke="#EDB120" stroke-width="1.35"/>
<text x="524.7" y="64.90" font-size="10.5" text-anchor="start" >Point 3</text>
<line x1="492.4" y1="73.35" x2="521.4" y2="73.35" stroke="#7E2F8E" stroke-width="1.35"/>
<text x="524.7" y="76.65" font-size="10.5" text-anchor="start" >Point 4</text>
<line x1="492.4" y1="85.10" x2="521.4" y2="85.10" stroke="#77AC30" stroke-width="1.35"/>
<text x="524.7" y="88.40" font-size="10.5" text-anchor="start" >Point 5</text>
<text x="482.0" y="250.5" font-size="11.8" text-anchor="start" class="an" >CNTs on parylene</text>
<text x="0" y="0" font-size="10.5" text-anchor="middle" transform="translate(471.90,145.6) rotate(-90)">Intensity (a.u.)</text>
<text x="559.35" y="298.8" font-size="10.7" text-anchor="middle" >Raman shift (cm<tspan font-size="7.4" dy="-4.6" dx="0.3">-1</tspan><tspan dy="4.6" dx="0.5">)</tspan></text>
</svg></body></html>
